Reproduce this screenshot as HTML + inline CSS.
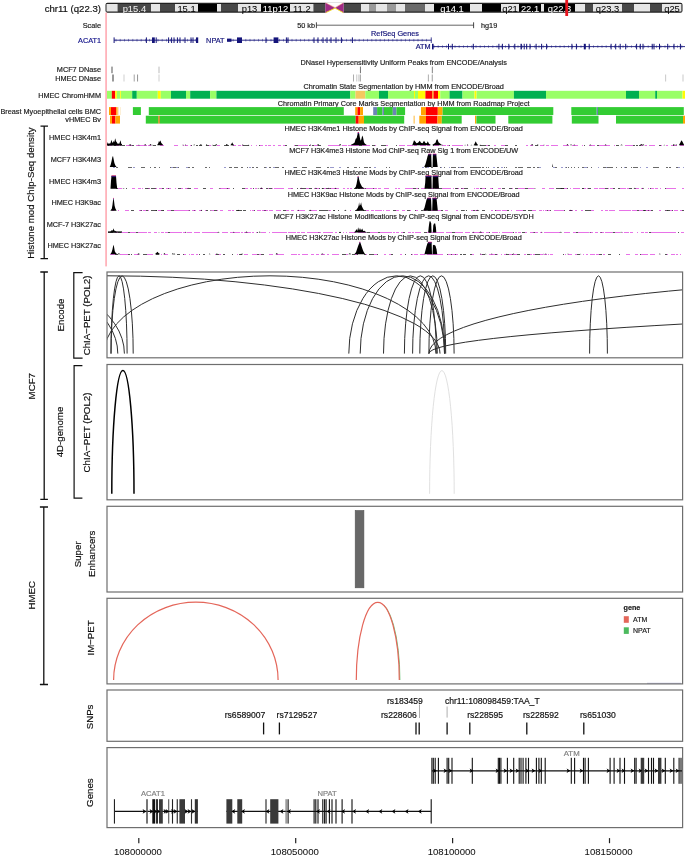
<!DOCTYPE html>
<html><head><meta charset="utf-8"><style>
html,body{margin:0;padding:0;background:#fff;width:685px;height:856px;overflow:hidden}
svg{display:block;will-change:transform}
text{font-family:"Liberation Sans", sans-serif}
</style></head><body>
<svg width="685" height="856" viewBox="0 0 685 856">
<rect width="685" height="856" fill="#fff"/>
<rect x="105.5" y="2.7" width="577" height="10.100000000000001" rx="2" fill="#222"/>
<rect x="106.50" y="4.00" width="11.30" height="7.50" fill="#e6e6e6"/>
<rect x="117.80" y="4.00" width="33.20" height="7.50" fill="#484848"/>
<rect x="151.00" y="4.00" width="9.00" height="7.50" fill="#e6e6e6"/>
<rect x="160.00" y="4.00" width="15.00" height="7.50" fill="#484848"/>
<rect x="175.00" y="4.00" width="23.00" height="7.50" fill="#e6e6e6"/>
<rect x="198.00" y="4.00" width="19.00" height="7.50" fill="#000"/>
<rect x="217.00" y="4.00" width="4.00" height="7.50" fill="#e6e6e6"/>
<rect x="221.00" y="4.00" width="17.00" height="7.50" fill="#484848"/>
<rect x="238.00" y="4.00" width="23.00" height="7.50" fill="#e6e6e6"/>
<rect x="261.00" y="4.00" width="29.00" height="7.50" fill="#000"/>
<rect x="290.00" y="4.00" width="23.70" height="7.50" fill="#e6e6e6"/>
<rect x="313.70" y="4.00" width="11.70" height="7.50" fill="#484848"/>
<rect x="343.60" y="4.00" width="17.40" height="7.50" fill="#484848"/>
<rect x="361.00" y="4.00" width="8.00" height="7.50" fill="#e6e6e6"/>
<rect x="369.00" y="4.00" width="7.00" height="7.50" fill="#9a9a9a"/>
<rect x="376.00" y="4.00" width="11.00" height="7.50" fill="#e6e6e6"/>
<rect x="387.00" y="4.00" width="9.00" height="7.50" fill="#9a9a9a"/>
<rect x="396.00" y="4.00" width="9.00" height="7.50" fill="#e6e6e6"/>
<rect x="405.00" y="4.00" width="20.00" height="7.50" fill="#6a6a6a"/>
<rect x="425.00" y="4.00" width="9.00" height="7.50" fill="#e6e6e6"/>
<rect x="434.00" y="4.00" width="36.00" height="7.50" fill="#000"/>
<rect x="470.00" y="4.00" width="12.00" height="7.50" fill="#e6e6e6"/>
<rect x="482.00" y="4.00" width="19.00" height="7.50" fill="#000"/>
<rect x="501.00" y="4.00" width="18.00" height="7.50" fill="#e6e6e6"/>
<rect x="519.00" y="4.00" width="22.00" height="7.50" fill="#000"/>
<rect x="541.00" y="4.00" width="3.00" height="7.50" fill="#e6e6e6"/>
<rect x="544.00" y="4.00" width="31.00" height="7.50" fill="#000"/>
<rect x="575.00" y="4.00" width="10.00" height="7.50" fill="#e6e6e6"/>
<rect x="585.00" y="4.00" width="8.00" height="7.50" fill="#484848"/>
<rect x="593.00" y="4.00" width="29.00" height="7.50" fill="#e6e6e6"/>
<rect x="622.00" y="4.00" width="12.00" height="7.50" fill="#484848"/>
<rect x="634.00" y="4.00" width="16.00" height="7.50" fill="#e6e6e6"/>
<rect x="650.00" y="4.00" width="12.00" height="7.50" fill="#484848"/>
<rect x="662.00" y="4.00" width="19.40" height="7.50" fill="#e6e6e6"/>
<text x="134.4" y="11.7" font-size="9.4" text-anchor="middle" fill="#eee" stroke="#eee" stroke-width="0.05">p15.4</text>
<text x="186.5" y="11.7" font-size="9.4" text-anchor="middle" fill="#000" stroke="#000" stroke-width="0.05">15.1</text>
<text x="249.5" y="11.7" font-size="9.4" text-anchor="middle" fill="#000" stroke="#000" stroke-width="0.05">p13</text>
<text x="275.5" y="11.7" font-size="9.4" text-anchor="middle" fill="#fff" stroke="#fff" stroke-width="0.05">11p12</text>
<text x="301.85" y="11.7" font-size="9.4" text-anchor="middle" fill="#000" stroke="#000" stroke-width="0.05">11.2</text>
<text x="452.0" y="11.7" font-size="9.4" text-anchor="middle" fill="#fff" stroke="#fff" stroke-width="0.05">q14.1</text>
<text x="510.0" y="11.7" font-size="9.4" text-anchor="middle" fill="#000" stroke="#000" stroke-width="0.05">q21</text>
<text x="530.0" y="11.7" font-size="9.4" text-anchor="middle" fill="#fff" stroke="#fff" stroke-width="0.05">22.1</text>
<text x="559.5" y="11.7" font-size="9.4" text-anchor="middle" fill="#fff" stroke="#fff" stroke-width="0.05">q22.3</text>
<text x="607.5" y="11.7" font-size="9.4" text-anchor="middle" fill="#000" stroke="#000" stroke-width="0.05">q23.3</text>
<text x="672.0" y="11.7" font-size="9.4" text-anchor="middle" fill="#000" stroke="#000" stroke-width="0.05">q25</text>
<rect x="325.40" y="2.50" width="18.20" height="10.60" fill="#fff"/>
<polygon points="325.4,2.8 335.1,7.9 325.4,12.9" fill="#a02a86"/>
<polygon points="343.6,2.8 335.1,7.9 343.6,12.9" fill="#a02a86"/>
<line x1="325.8" y1="12.6" x2="335.1" y2="8.2" stroke="#f0e020" stroke-width="0.9"/>
<line x1="343.2" y1="12.6" x2="335.1" y2="8.2" stroke="#f0e020" stroke-width="0.9"/>
<line x1="325.8" y1="3.1" x2="335.1" y2="7.6" stroke="#e07050" stroke-width="0.5"/>
<line x1="343.2" y1="3.1" x2="335.1" y2="7.6" stroke="#e07050" stroke-width="0.5"/>
<rect x="565.30" y="0.00" width="2.80" height="16.00" fill="#e8141e"/>
<rect x="105.20" y="12.60" width="1.80" height="253.80" fill="#ffb3bb"/>
<text x="101" y="12.2" font-size="9.6" text-anchor="end" fill="#111" stroke="#111" stroke-width="0.18">chr11 (q22.3)</text>
<text x="101" y="27.6" font-size="7.3" text-anchor="end" fill="#222" stroke="#222" stroke-width="0.18">Scale</text>
<text x="101" y="42.8" font-size="7.3" text-anchor="end" fill="#16168c" stroke="#16168c" stroke-width="0.18">ACAT1</text>
<text x="101" y="72.4" font-size="7.3" text-anchor="end" fill="#222" stroke="#222" stroke-width="0.18">MCF7 DNase</text>
<text x="101" y="81.0" font-size="7.3" text-anchor="end" fill="#222" stroke="#222" stroke-width="0.18">HMEC DNase</text>
<text x="101" y="97.5" font-size="7.3" text-anchor="end" fill="#222" stroke="#222" stroke-width="0.18">HMEC ChromHMM</text>
<text x="101" y="113.7" font-size="7.3" text-anchor="end" fill="#222" stroke="#222" stroke-width="0.18">Breast Myoepithelial cells BMC</text>
<text x="101" y="122.1" font-size="7.3" text-anchor="end" fill="#222" stroke="#222" stroke-width="0.18">vHMEC Bv</text>
<text x="101" y="140.1" font-size="7.3" text-anchor="end" fill="#222" stroke="#222" stroke-width="0.18">HMEC H3K4m1</text>
<text x="101" y="162.0" font-size="7.3" text-anchor="end" fill="#222" stroke="#222" stroke-width="0.18">MCF7 H3K4M3</text>
<text x="101" y="183.5" font-size="7.3" text-anchor="end" fill="#222" stroke="#222" stroke-width="0.18">HMEC H3K4m3</text>
<text x="101" y="205.1" font-size="7.3" text-anchor="end" fill="#222" stroke="#222" stroke-width="0.18">HMEC H3K9ac</text>
<text x="101" y="226.7" font-size="7.3" text-anchor="end" fill="#222" stroke="#222" stroke-width="0.18">MCF-7 H3K27ac</text>
<text x="101" y="248.1" font-size="7.3" text-anchor="end" fill="#222" stroke="#222" stroke-width="0.18">HMEC H3K27ac</text>
<text x="315" y="28.3" font-size="7.3" text-anchor="end" fill="#222" stroke="#222" stroke-width="0.18">50 kb</text>
<line x1="316.4" y1="25.2" x2="473.6" y2="25.2" stroke="#555" stroke-width="0.9"/>
<line x1="316.4" y1="22.3" x2="316.4" y2="28.2" stroke="#333" stroke-width="0.9"/>
<line x1="473.6" y1="22.3" x2="473.6" y2="28.2" stroke="#333" stroke-width="0.9"/>
<text x="481" y="28.3" font-size="7.3" text-anchor="start" fill="#222" stroke="#222" stroke-width="0.18">hg19</text>
<line x1="114" y1="40.2" x2="198" y2="40.2" stroke="#14147a" stroke-width="0.9"/>
<line x1="116.0" y1="38.900000000000006" x2="116.0" y2="41.5" stroke="#14147a" stroke-width="0.6" opacity="0.8"/>
<line x1="120.2" y1="38.900000000000006" x2="120.2" y2="41.5" stroke="#14147a" stroke-width="0.6" opacity="0.8"/>
<line x1="124.4" y1="38.900000000000006" x2="124.4" y2="41.5" stroke="#14147a" stroke-width="0.6" opacity="0.8"/>
<line x1="128.6" y1="38.900000000000006" x2="128.6" y2="41.5" stroke="#14147a" stroke-width="0.6" opacity="0.8"/>
<line x1="132.8" y1="38.900000000000006" x2="132.8" y2="41.5" stroke="#14147a" stroke-width="0.6" opacity="0.8"/>
<line x1="137.0" y1="38.900000000000006" x2="137.0" y2="41.5" stroke="#14147a" stroke-width="0.6" opacity="0.8"/>
<line x1="141.2" y1="38.900000000000006" x2="141.2" y2="41.5" stroke="#14147a" stroke-width="0.6" opacity="0.8"/>
<line x1="145.4" y1="38.900000000000006" x2="145.4" y2="41.5" stroke="#14147a" stroke-width="0.6" opacity="0.8"/>
<line x1="149.6" y1="38.900000000000006" x2="149.6" y2="41.5" stroke="#14147a" stroke-width="0.6" opacity="0.8"/>
<line x1="153.8" y1="38.900000000000006" x2="153.8" y2="41.5" stroke="#14147a" stroke-width="0.6" opacity="0.8"/>
<line x1="158.0" y1="38.900000000000006" x2="158.0" y2="41.5" stroke="#14147a" stroke-width="0.6" opacity="0.8"/>
<line x1="162.2" y1="38.900000000000006" x2="162.2" y2="41.5" stroke="#14147a" stroke-width="0.6" opacity="0.8"/>
<line x1="166.4" y1="38.900000000000006" x2="166.4" y2="41.5" stroke="#14147a" stroke-width="0.6" opacity="0.8"/>
<line x1="170.6" y1="38.900000000000006" x2="170.6" y2="41.5" stroke="#14147a" stroke-width="0.6" opacity="0.8"/>
<line x1="174.8" y1="38.900000000000006" x2="174.8" y2="41.5" stroke="#14147a" stroke-width="0.6" opacity="0.8"/>
<line x1="179.0" y1="38.900000000000006" x2="179.0" y2="41.5" stroke="#14147a" stroke-width="0.6" opacity="0.8"/>
<line x1="183.2" y1="38.900000000000006" x2="183.2" y2="41.5" stroke="#14147a" stroke-width="0.6" opacity="0.8"/>
<line x1="187.4" y1="38.900000000000006" x2="187.4" y2="41.5" stroke="#14147a" stroke-width="0.6" opacity="0.8"/>
<line x1="191.6" y1="38.900000000000006" x2="191.6" y2="41.5" stroke="#14147a" stroke-width="0.6" opacity="0.8"/>
<line x1="195.8" y1="38.900000000000006" x2="195.8" y2="41.5" stroke="#14147a" stroke-width="0.6" opacity="0.8"/>
<rect x="113.60" y="37.40" width="1.00" height="5.60" fill="#14147a"/>
<rect x="145.90" y="37.40" width="1.00" height="5.60" fill="#14147a"/>
<rect x="152.00" y="37.40" width="2.80" height="5.60" fill="#14147a"/>
<rect x="155.70" y="37.40" width="1.00" height="5.60" fill="#14147a"/>
<rect x="168.10" y="37.40" width="1.00" height="5.60" fill="#14147a"/>
<rect x="171.10" y="37.40" width="1.00" height="5.60" fill="#14147a"/>
<rect x="173.50" y="37.40" width="1.00" height="5.60" fill="#14147a"/>
<rect x="176.90" y="37.40" width="1.00" height="5.60" fill="#14147a"/>
<rect x="179.50" y="37.40" width="1.00" height="5.60" fill="#14147a"/>
<rect x="184.50" y="37.40" width="1.00" height="5.60" fill="#14147a"/>
<rect x="190.50" y="37.40" width="1.00" height="5.60" fill="#14147a"/>
<rect x="192.50" y="37.40" width="1.00" height="5.60" fill="#14147a"/>
<rect x="196.00" y="37.40" width="2.20" height="5.60" fill="#14147a"/>
<text x="224.5" y="42.8" font-size="7.3" text-anchor="end" fill="#14147a" stroke="#14147a" stroke-width="0.18">NPAT</text>
<line x1="227" y1="40.2" x2="431.5" y2="40.2" stroke="#14147a" stroke-width="0.9"/>
<line x1="229.0" y1="38.900000000000006" x2="229.0" y2="41.5" stroke="#14147a" stroke-width="0.6" opacity="0.8"/>
<line x1="233.2" y1="38.900000000000006" x2="233.2" y2="41.5" stroke="#14147a" stroke-width="0.6" opacity="0.8"/>
<line x1="237.4" y1="38.900000000000006" x2="237.4" y2="41.5" stroke="#14147a" stroke-width="0.6" opacity="0.8"/>
<line x1="241.6" y1="38.900000000000006" x2="241.6" y2="41.5" stroke="#14147a" stroke-width="0.6" opacity="0.8"/>
<line x1="245.8" y1="38.900000000000006" x2="245.8" y2="41.5" stroke="#14147a" stroke-width="0.6" opacity="0.8"/>
<line x1="250.0" y1="38.900000000000006" x2="250.0" y2="41.5" stroke="#14147a" stroke-width="0.6" opacity="0.8"/>
<line x1="254.2" y1="38.900000000000006" x2="254.2" y2="41.5" stroke="#14147a" stroke-width="0.6" opacity="0.8"/>
<line x1="258.4" y1="38.900000000000006" x2="258.4" y2="41.5" stroke="#14147a" stroke-width="0.6" opacity="0.8"/>
<line x1="262.6" y1="38.900000000000006" x2="262.6" y2="41.5" stroke="#14147a" stroke-width="0.6" opacity="0.8"/>
<line x1="266.8" y1="38.900000000000006" x2="266.8" y2="41.5" stroke="#14147a" stroke-width="0.6" opacity="0.8"/>
<line x1="271.0" y1="38.900000000000006" x2="271.0" y2="41.5" stroke="#14147a" stroke-width="0.6" opacity="0.8"/>
<line x1="275.2" y1="38.900000000000006" x2="275.2" y2="41.5" stroke="#14147a" stroke-width="0.6" opacity="0.8"/>
<line x1="279.4" y1="38.900000000000006" x2="279.4" y2="41.5" stroke="#14147a" stroke-width="0.6" opacity="0.8"/>
<line x1="283.6" y1="38.900000000000006" x2="283.6" y2="41.5" stroke="#14147a" stroke-width="0.6" opacity="0.8"/>
<line x1="287.8" y1="38.900000000000006" x2="287.8" y2="41.5" stroke="#14147a" stroke-width="0.6" opacity="0.8"/>
<line x1="292.0" y1="38.900000000000006" x2="292.0" y2="41.5" stroke="#14147a" stroke-width="0.6" opacity="0.8"/>
<line x1="296.2" y1="38.900000000000006" x2="296.2" y2="41.5" stroke="#14147a" stroke-width="0.6" opacity="0.8"/>
<line x1="300.4" y1="38.900000000000006" x2="300.4" y2="41.5" stroke="#14147a" stroke-width="0.6" opacity="0.8"/>
<line x1="304.6" y1="38.900000000000006" x2="304.6" y2="41.5" stroke="#14147a" stroke-width="0.6" opacity="0.8"/>
<line x1="308.8" y1="38.900000000000006" x2="308.8" y2="41.5" stroke="#14147a" stroke-width="0.6" opacity="0.8"/>
<line x1="313.0" y1="38.900000000000006" x2="313.0" y2="41.5" stroke="#14147a" stroke-width="0.6" opacity="0.8"/>
<line x1="317.2" y1="38.900000000000006" x2="317.2" y2="41.5" stroke="#14147a" stroke-width="0.6" opacity="0.8"/>
<line x1="321.4" y1="38.900000000000006" x2="321.4" y2="41.5" stroke="#14147a" stroke-width="0.6" opacity="0.8"/>
<line x1="325.6" y1="38.900000000000006" x2="325.6" y2="41.5" stroke="#14147a" stroke-width="0.6" opacity="0.8"/>
<line x1="329.8" y1="38.900000000000006" x2="329.8" y2="41.5" stroke="#14147a" stroke-width="0.6" opacity="0.8"/>
<line x1="334.0" y1="38.900000000000006" x2="334.0" y2="41.5" stroke="#14147a" stroke-width="0.6" opacity="0.8"/>
<line x1="338.2" y1="38.900000000000006" x2="338.2" y2="41.5" stroke="#14147a" stroke-width="0.6" opacity="0.8"/>
<line x1="342.4" y1="38.900000000000006" x2="342.4" y2="41.5" stroke="#14147a" stroke-width="0.6" opacity="0.8"/>
<line x1="346.6" y1="38.900000000000006" x2="346.6" y2="41.5" stroke="#14147a" stroke-width="0.6" opacity="0.8"/>
<line x1="350.8" y1="38.900000000000006" x2="350.8" y2="41.5" stroke="#14147a" stroke-width="0.6" opacity="0.8"/>
<line x1="355.0" y1="38.900000000000006" x2="355.0" y2="41.5" stroke="#14147a" stroke-width="0.6" opacity="0.8"/>
<line x1="359.2" y1="38.900000000000006" x2="359.2" y2="41.5" stroke="#14147a" stroke-width="0.6" opacity="0.8"/>
<line x1="363.4" y1="38.900000000000006" x2="363.4" y2="41.5" stroke="#14147a" stroke-width="0.6" opacity="0.8"/>
<line x1="367.6" y1="38.900000000000006" x2="367.6" y2="41.5" stroke="#14147a" stroke-width="0.6" opacity="0.8"/>
<line x1="371.8" y1="38.900000000000006" x2="371.8" y2="41.5" stroke="#14147a" stroke-width="0.6" opacity="0.8"/>
<line x1="376.0" y1="38.900000000000006" x2="376.0" y2="41.5" stroke="#14147a" stroke-width="0.6" opacity="0.8"/>
<line x1="380.2" y1="38.900000000000006" x2="380.2" y2="41.5" stroke="#14147a" stroke-width="0.6" opacity="0.8"/>
<line x1="384.4" y1="38.900000000000006" x2="384.4" y2="41.5" stroke="#14147a" stroke-width="0.6" opacity="0.8"/>
<line x1="388.6" y1="38.900000000000006" x2="388.6" y2="41.5" stroke="#14147a" stroke-width="0.6" opacity="0.8"/>
<line x1="392.8" y1="38.900000000000006" x2="392.8" y2="41.5" stroke="#14147a" stroke-width="0.6" opacity="0.8"/>
<line x1="397.0" y1="38.900000000000006" x2="397.0" y2="41.5" stroke="#14147a" stroke-width="0.6" opacity="0.8"/>
<line x1="401.2" y1="38.900000000000006" x2="401.2" y2="41.5" stroke="#14147a" stroke-width="0.6" opacity="0.8"/>
<line x1="405.4" y1="38.900000000000006" x2="405.4" y2="41.5" stroke="#14147a" stroke-width="0.6" opacity="0.8"/>
<line x1="409.6" y1="38.900000000000006" x2="409.6" y2="41.5" stroke="#14147a" stroke-width="0.6" opacity="0.8"/>
<line x1="413.8" y1="38.900000000000006" x2="413.8" y2="41.5" stroke="#14147a" stroke-width="0.6" opacity="0.8"/>
<line x1="418.0" y1="38.900000000000006" x2="418.0" y2="41.5" stroke="#14147a" stroke-width="0.6" opacity="0.8"/>
<line x1="422.2" y1="38.900000000000006" x2="422.2" y2="41.5" stroke="#14147a" stroke-width="0.6" opacity="0.8"/>
<line x1="426.4" y1="38.900000000000006" x2="426.4" y2="41.5" stroke="#14147a" stroke-width="0.6" opacity="0.8"/>
<rect x="227.00" y="38.60" width="4.50" height="3.20" fill="#14147a"/>
<rect x="237.00" y="37.40" width="5.00" height="5.60" fill="#14147a"/>
<rect x="265.50" y="37.40" width="1.00" height="5.60" fill="#14147a"/>
<rect x="273.60" y="37.40" width="4.80" height="5.60" fill="#14147a"/>
<rect x="285.90" y="37.40" width="1.00" height="5.60" fill="#14147a"/>
<rect x="287.50" y="37.40" width="1.00" height="5.60" fill="#14147a"/>
<rect x="313.50" y="37.40" width="1.00" height="5.60" fill="#14147a"/>
<rect x="317.50" y="37.40" width="1.00" height="5.60" fill="#14147a"/>
<rect x="322.50" y="37.40" width="1.00" height="5.60" fill="#14147a"/>
<rect x="326.50" y="37.40" width="1.00" height="5.60" fill="#14147a"/>
<rect x="330.50" y="37.40" width="1.00" height="5.60" fill="#14147a"/>
<rect x="335.50" y="37.40" width="1.00" height="5.60" fill="#14147a"/>
<rect x="340.90" y="37.40" width="1.00" height="5.60" fill="#14147a"/>
<rect x="351.90" y="37.40" width="1.00" height="5.60" fill="#14147a"/>
<rect x="430.80" y="37.40" width="0.80" height="5.60" fill="#14147a"/>
<text x="395" y="35.9" font-size="7.3" text-anchor="middle" fill="#14147a" stroke="#14147a" stroke-width="0.18">RefSeq Genes</text>
<text x="430.5" y="49.1" font-size="7.3" text-anchor="end" fill="#14147a" stroke="#14147a" stroke-width="0.18">ATM</text>
<line x1="432" y1="46.6" x2="685" y2="46.6" stroke="#14147a" stroke-width="0.9"/>
<line x1="434.0" y1="45.300000000000004" x2="434.0" y2="47.9" stroke="#14147a" stroke-width="0.6" opacity="0.8"/>
<line x1="438.2" y1="45.300000000000004" x2="438.2" y2="47.9" stroke="#14147a" stroke-width="0.6" opacity="0.8"/>
<line x1="442.4" y1="45.300000000000004" x2="442.4" y2="47.9" stroke="#14147a" stroke-width="0.6" opacity="0.8"/>
<line x1="446.6" y1="45.300000000000004" x2="446.6" y2="47.9" stroke="#14147a" stroke-width="0.6" opacity="0.8"/>
<line x1="450.8" y1="45.300000000000004" x2="450.8" y2="47.9" stroke="#14147a" stroke-width="0.6" opacity="0.8"/>
<line x1="455.0" y1="45.300000000000004" x2="455.0" y2="47.9" stroke="#14147a" stroke-width="0.6" opacity="0.8"/>
<line x1="459.2" y1="45.300000000000004" x2="459.2" y2="47.9" stroke="#14147a" stroke-width="0.6" opacity="0.8"/>
<line x1="463.4" y1="45.300000000000004" x2="463.4" y2="47.9" stroke="#14147a" stroke-width="0.6" opacity="0.8"/>
<line x1="467.6" y1="45.300000000000004" x2="467.6" y2="47.9" stroke="#14147a" stroke-width="0.6" opacity="0.8"/>
<line x1="471.8" y1="45.300000000000004" x2="471.8" y2="47.9" stroke="#14147a" stroke-width="0.6" opacity="0.8"/>
<line x1="476.0" y1="45.300000000000004" x2="476.0" y2="47.9" stroke="#14147a" stroke-width="0.6" opacity="0.8"/>
<line x1="480.2" y1="45.300000000000004" x2="480.2" y2="47.9" stroke="#14147a" stroke-width="0.6" opacity="0.8"/>
<line x1="484.4" y1="45.300000000000004" x2="484.4" y2="47.9" stroke="#14147a" stroke-width="0.6" opacity="0.8"/>
<line x1="488.6" y1="45.300000000000004" x2="488.6" y2="47.9" stroke="#14147a" stroke-width="0.6" opacity="0.8"/>
<line x1="492.8" y1="45.300000000000004" x2="492.8" y2="47.9" stroke="#14147a" stroke-width="0.6" opacity="0.8"/>
<line x1="497.0" y1="45.300000000000004" x2="497.0" y2="47.9" stroke="#14147a" stroke-width="0.6" opacity="0.8"/>
<line x1="501.2" y1="45.300000000000004" x2="501.2" y2="47.9" stroke="#14147a" stroke-width="0.6" opacity="0.8"/>
<line x1="505.4" y1="45.300000000000004" x2="505.4" y2="47.9" stroke="#14147a" stroke-width="0.6" opacity="0.8"/>
<line x1="509.6" y1="45.300000000000004" x2="509.6" y2="47.9" stroke="#14147a" stroke-width="0.6" opacity="0.8"/>
<line x1="513.8" y1="45.300000000000004" x2="513.8" y2="47.9" stroke="#14147a" stroke-width="0.6" opacity="0.8"/>
<line x1="518.0" y1="45.300000000000004" x2="518.0" y2="47.9" stroke="#14147a" stroke-width="0.6" opacity="0.8"/>
<line x1="522.2" y1="45.300000000000004" x2="522.2" y2="47.9" stroke="#14147a" stroke-width="0.6" opacity="0.8"/>
<line x1="526.4" y1="45.300000000000004" x2="526.4" y2="47.9" stroke="#14147a" stroke-width="0.6" opacity="0.8"/>
<line x1="530.6" y1="45.300000000000004" x2="530.6" y2="47.9" stroke="#14147a" stroke-width="0.6" opacity="0.8"/>
<line x1="534.8" y1="45.300000000000004" x2="534.8" y2="47.9" stroke="#14147a" stroke-width="0.6" opacity="0.8"/>
<line x1="539.0" y1="45.300000000000004" x2="539.0" y2="47.9" stroke="#14147a" stroke-width="0.6" opacity="0.8"/>
<line x1="543.2" y1="45.300000000000004" x2="543.2" y2="47.9" stroke="#14147a" stroke-width="0.6" opacity="0.8"/>
<line x1="547.4" y1="45.300000000000004" x2="547.4" y2="47.9" stroke="#14147a" stroke-width="0.6" opacity="0.8"/>
<line x1="551.6" y1="45.300000000000004" x2="551.6" y2="47.9" stroke="#14147a" stroke-width="0.6" opacity="0.8"/>
<line x1="555.8" y1="45.300000000000004" x2="555.8" y2="47.9" stroke="#14147a" stroke-width="0.6" opacity="0.8"/>
<line x1="560.0" y1="45.300000000000004" x2="560.0" y2="47.9" stroke="#14147a" stroke-width="0.6" opacity="0.8"/>
<line x1="564.2" y1="45.300000000000004" x2="564.2" y2="47.9" stroke="#14147a" stroke-width="0.6" opacity="0.8"/>
<line x1="568.4" y1="45.300000000000004" x2="568.4" y2="47.9" stroke="#14147a" stroke-width="0.6" opacity="0.8"/>
<line x1="572.6" y1="45.300000000000004" x2="572.6" y2="47.9" stroke="#14147a" stroke-width="0.6" opacity="0.8"/>
<line x1="576.8" y1="45.300000000000004" x2="576.8" y2="47.9" stroke="#14147a" stroke-width="0.6" opacity="0.8"/>
<line x1="581.0" y1="45.300000000000004" x2="581.0" y2="47.9" stroke="#14147a" stroke-width="0.6" opacity="0.8"/>
<line x1="585.2" y1="45.300000000000004" x2="585.2" y2="47.9" stroke="#14147a" stroke-width="0.6" opacity="0.8"/>
<line x1="589.4" y1="45.300000000000004" x2="589.4" y2="47.9" stroke="#14147a" stroke-width="0.6" opacity="0.8"/>
<line x1="593.6" y1="45.300000000000004" x2="593.6" y2="47.9" stroke="#14147a" stroke-width="0.6" opacity="0.8"/>
<line x1="597.8" y1="45.300000000000004" x2="597.8" y2="47.9" stroke="#14147a" stroke-width="0.6" opacity="0.8"/>
<line x1="602.0" y1="45.300000000000004" x2="602.0" y2="47.9" stroke="#14147a" stroke-width="0.6" opacity="0.8"/>
<line x1="606.2" y1="45.300000000000004" x2="606.2" y2="47.9" stroke="#14147a" stroke-width="0.6" opacity="0.8"/>
<line x1="610.4" y1="45.300000000000004" x2="610.4" y2="47.9" stroke="#14147a" stroke-width="0.6" opacity="0.8"/>
<line x1="614.6" y1="45.300000000000004" x2="614.6" y2="47.9" stroke="#14147a" stroke-width="0.6" opacity="0.8"/>
<line x1="618.8" y1="45.300000000000004" x2="618.8" y2="47.9" stroke="#14147a" stroke-width="0.6" opacity="0.8"/>
<line x1="623.0" y1="45.300000000000004" x2="623.0" y2="47.9" stroke="#14147a" stroke-width="0.6" opacity="0.8"/>
<line x1="627.2" y1="45.300000000000004" x2="627.2" y2="47.9" stroke="#14147a" stroke-width="0.6" opacity="0.8"/>
<line x1="631.4" y1="45.300000000000004" x2="631.4" y2="47.9" stroke="#14147a" stroke-width="0.6" opacity="0.8"/>
<line x1="635.6" y1="45.300000000000004" x2="635.6" y2="47.9" stroke="#14147a" stroke-width="0.6" opacity="0.8"/>
<line x1="639.8" y1="45.300000000000004" x2="639.8" y2="47.9" stroke="#14147a" stroke-width="0.6" opacity="0.8"/>
<line x1="644.0" y1="45.300000000000004" x2="644.0" y2="47.9" stroke="#14147a" stroke-width="0.6" opacity="0.8"/>
<line x1="648.2" y1="45.300000000000004" x2="648.2" y2="47.9" stroke="#14147a" stroke-width="0.6" opacity="0.8"/>
<line x1="652.4" y1="45.300000000000004" x2="652.4" y2="47.9" stroke="#14147a" stroke-width="0.6" opacity="0.8"/>
<line x1="656.6" y1="45.300000000000004" x2="656.6" y2="47.9" stroke="#14147a" stroke-width="0.6" opacity="0.8"/>
<line x1="660.8" y1="45.300000000000004" x2="660.8" y2="47.9" stroke="#14147a" stroke-width="0.6" opacity="0.8"/>
<line x1="665.0" y1="45.300000000000004" x2="665.0" y2="47.9" stroke="#14147a" stroke-width="0.6" opacity="0.8"/>
<line x1="669.2" y1="45.300000000000004" x2="669.2" y2="47.9" stroke="#14147a" stroke-width="0.6" opacity="0.8"/>
<line x1="673.4" y1="45.300000000000004" x2="673.4" y2="47.9" stroke="#14147a" stroke-width="0.6" opacity="0.8"/>
<line x1="677.6" y1="45.300000000000004" x2="677.6" y2="47.9" stroke="#14147a" stroke-width="0.6" opacity="0.8"/>
<line x1="681.8" y1="45.300000000000004" x2="681.8" y2="47.9" stroke="#14147a" stroke-width="0.6" opacity="0.8"/>
<rect x="432.00" y="43.80" width="1.60" height="5.60" fill="#14147a"/>
<rect x="448.00" y="43.80" width="1.00" height="5.60" fill="#14147a"/>
<rect x="451.80" y="43.80" width="1.00" height="5.60" fill="#14147a"/>
<rect x="472.80" y="43.80" width="1.00" height="5.60" fill="#14147a"/>
<rect x="498.40" y="43.80" width="1.00" height="5.60" fill="#14147a"/>
<rect x="501.90" y="43.80" width="1.00" height="5.60" fill="#14147a"/>
<rect x="508.30" y="43.80" width="1.00" height="5.60" fill="#14147a"/>
<rect x="514.30" y="43.80" width="1.00" height="5.60" fill="#14147a"/>
<rect x="520.50" y="43.80" width="1.40" height="5.60" fill="#14147a"/>
<rect x="523.70" y="43.80" width="1.00" height="5.60" fill="#14147a"/>
<rect x="526.20" y="43.80" width="1.00" height="5.60" fill="#14147a"/>
<rect x="529.50" y="43.80" width="1.00" height="5.60" fill="#14147a"/>
<rect x="535.60" y="43.80" width="1.00" height="5.60" fill="#14147a"/>
<rect x="541.10" y="43.80" width="1.00" height="5.60" fill="#14147a"/>
<rect x="546.10" y="43.80" width="1.00" height="5.60" fill="#14147a"/>
<rect x="571.40" y="43.80" width="1.00" height="5.60" fill="#14147a"/>
<rect x="575.90" y="43.80" width="1.00" height="5.60" fill="#14147a"/>
<rect x="583.80" y="43.80" width="2.00" height="5.60" fill="#14147a"/>
<rect x="588.70" y="43.80" width="1.00" height="5.60" fill="#14147a"/>
<rect x="610.60" y="43.80" width="1.00" height="5.60" fill="#14147a"/>
<rect x="615.20" y="43.80" width="1.00" height="5.60" fill="#14147a"/>
<rect x="619.70" y="43.80" width="1.00" height="5.60" fill="#14147a"/>
<rect x="625.20" y="43.80" width="1.00" height="5.60" fill="#14147a"/>
<rect x="636.10" y="43.80" width="1.00" height="5.60" fill="#14147a"/>
<rect x="639.80" y="43.80" width="1.00" height="5.60" fill="#14147a"/>
<rect x="642.50" y="43.80" width="1.00" height="5.60" fill="#14147a"/>
<rect x="651.70" y="43.80" width="1.00" height="5.60" fill="#14147a"/>
<rect x="653.50" y="43.80" width="1.00" height="5.60" fill="#14147a"/>
<rect x="659.00" y="43.80" width="1.00" height="5.60" fill="#14147a"/>
<rect x="667.20" y="43.80" width="1.00" height="5.60" fill="#14147a"/>
<rect x="673.50" y="43.80" width="1.00" height="5.60" fill="#14147a"/>
<rect x="679.90" y="43.80" width="1.00" height="5.60" fill="#14147a"/>
<text x="403.7" y="64.5" font-size="7.3" text-anchor="middle" fill="#222" stroke="#222" stroke-width="0.18">DNaseI Hypersensitivity Uniform Peaks from ENCODE/Analysis</text>
<rect x="111.50" y="66.60" width="1.00" height="6.60" fill="#555"/>
<rect x="158.60" y="66.60" width="0.80" height="6.60" fill="#aaa"/>
<rect x="359.95" y="66.60" width="0.90" height="6.60" fill="#666"/>
<rect x="431.85" y="66.60" width="0.90" height="6.60" fill="#777"/>
<rect x="112.00" y="74.50" width="2.00" height="7.00" fill="#999"/>
<rect x="123.65" y="74.50" width="0.70" height="7.00" fill="#bbb"/>
<rect x="133.75" y="74.50" width="0.90" height="7.00" fill="#999"/>
<rect x="137.15" y="74.50" width="0.90" height="7.00" fill="#888"/>
<rect x="158.65" y="74.50" width="0.70" height="7.00" fill="#bbb"/>
<rect x="353.00" y="74.50" width="0.80" height="7.00" fill="#999"/>
<rect x="356.40" y="74.50" width="0.80" height="7.00" fill="#bbb"/>
<rect x="358.60" y="74.50" width="0.80" height="7.00" fill="#aaa"/>
<rect x="360.00" y="74.50" width="0.80" height="7.00" fill="#999"/>
<rect x="427.90" y="74.50" width="0.80" height="7.00" fill="#999"/>
<rect x="431.80" y="74.50" width="0.80" height="7.00" fill="#888"/>
<rect x="665.30" y="74.50" width="0.80" height="7.00" fill="#bbb"/>
<rect x="682.60" y="74.50" width="0.80" height="7.00" fill="#bbb"/>
<text x="403.7" y="88.6" font-size="7.3" text-anchor="middle" fill="#222" stroke="#222" stroke-width="0.18">Chromatin State Segmentation by HMM from ENCODE/Broad</text>
<rect x="107.00" y="90.80" width="4.80" height="7.90" fill="#99ff66"/>
<rect x="111.80" y="90.80" width="3.40" height="7.90" fill="#ff0000"/>
<rect x="115.20" y="90.80" width="1.70" height="7.90" fill="#fffc04"/>
<rect x="116.90" y="90.80" width="3.30" height="7.90" fill="#99ff66"/>
<rect x="120.20" y="90.80" width="0.80" height="7.90" fill="#fffc04"/>
<rect x="121.00" y="90.80" width="11.20" height="7.90" fill="#99ff66"/>
<rect x="132.20" y="90.80" width="4.60" height="7.90" fill="#00b050"/>
<rect x="136.80" y="90.80" width="21.00" height="7.90" fill="#99ff66"/>
<rect x="157.80" y="90.80" width="3.00" height="7.90" fill="#fffc04"/>
<rect x="160.80" y="90.80" width="10.20" height="7.90" fill="#99ff66"/>
<rect x="171.00" y="90.80" width="15.00" height="7.90" fill="#00b050"/>
<rect x="186.00" y="90.80" width="4.20" height="7.90" fill="#99ff66"/>
<rect x="190.20" y="90.80" width="19.90" height="7.90" fill="#00b050"/>
<rect x="210.10" y="90.80" width="6.30" height="7.90" fill="#99ff66"/>
<rect x="216.40" y="90.80" width="133.90" height="7.90" fill="#00b050"/>
<rect x="350.30" y="90.80" width="5.20" height="7.90" fill="#99ff66"/>
<rect x="355.50" y="90.80" width="9.80" height="7.90" fill="#f4c860"/>
<rect x="365.30" y="90.80" width="13.70" height="7.90" fill="#99ff66"/>
<rect x="379.00" y="90.80" width="9.00" height="7.90" fill="#00b050"/>
<rect x="388.00" y="90.80" width="26.00" height="7.90" fill="#99ff66"/>
<rect x="414.00" y="90.80" width="1.00" height="7.90" fill="#fffc04"/>
<rect x="415.00" y="90.80" width="3.00" height="7.90" fill="#99ff66"/>
<rect x="418.00" y="90.80" width="7.40" height="7.90" fill="#fffc04"/>
<rect x="425.40" y="90.80" width="7.00" height="7.90" fill="#ff0000"/>
<rect x="432.40" y="90.80" width="1.20" height="7.90" fill="#ffb000"/>
<rect x="433.60" y="90.80" width="4.40" height="7.90" fill="#ff0000"/>
<rect x="438.00" y="90.80" width="2.30" height="7.90" fill="#fffc04"/>
<rect x="440.30" y="90.80" width="9.20" height="7.90" fill="#99ff66"/>
<rect x="449.50" y="90.80" width="13.00" height="7.90" fill="#00b050"/>
<rect x="462.50" y="90.80" width="12.00" height="7.90" fill="#99ff66"/>
<rect x="474.50" y="90.80" width="2.10" height="7.90" fill="#fffc04"/>
<rect x="476.60" y="90.80" width="37.30" height="7.90" fill="#99ff66"/>
<rect x="513.90" y="90.80" width="32.10" height="7.90" fill="#00b050"/>
<rect x="546.00" y="90.80" width="80.00" height="7.90" fill="#99ff66"/>
<rect x="626.00" y="90.80" width="13.00" height="7.90" fill="#00b050"/>
<rect x="639.00" y="90.80" width="16.20" height="7.90" fill="#99ff66"/>
<rect x="655.20" y="90.80" width="1.80" height="7.90" fill="#00b050"/>
<rect x="657.00" y="90.80" width="25.50" height="7.90" fill="#99ff66"/>
<rect x="682.50" y="90.80" width="2.50" height="7.90" fill="#fffc04"/>
<text x="403.7" y="105.8" font-size="7.3" text-anchor="middle" fill="#222" stroke="#222" stroke-width="0.18">Chromatin Primary Core Marks Segmentation by HMM from Roadmap Project</text>
<rect x="109.00" y="107.10" width="2.00" height="7.90" fill="#ffa500"/>
<rect x="111.00" y="107.10" width="5.20" height="7.90" fill="#ff0000"/>
<rect x="116.20" y="107.10" width="1.40" height="7.90" fill="#ffa500"/>
<rect x="118.00" y="107.10" width="0.60" height="7.90" fill="#f8d8a0"/>
<rect x="120.50" y="107.10" width="0.50" height="7.90" fill="#f8e0b0"/>
<rect x="132.90" y="107.10" width="8.00" height="7.90" fill="#33cc33"/>
<rect x="148.80" y="107.10" width="195.00" height="7.90" fill="#33cc33"/>
<rect x="355.20" y="107.10" width="2.30" height="7.90" fill="#ffa500"/>
<rect x="357.50" y="107.10" width="2.60" height="7.90" fill="#ff0000"/>
<rect x="360.10" y="107.10" width="2.90" height="7.90" fill="#ffa500"/>
<rect x="373.20" y="107.10" width="3.90" height="7.90" fill="#6c84b6"/>
<rect x="377.10" y="107.10" width="5.40" height="7.90" fill="#33cc33"/>
<rect x="382.50" y="107.10" width="1.50" height="7.90" fill="#6c84b6"/>
<rect x="384.00" y="107.10" width="8.80" height="7.90" fill="#33cc33"/>
<rect x="392.80" y="107.10" width="3.60" height="7.90" fill="#6c84b6"/>
<rect x="396.40" y="107.10" width="8.70" height="7.90" fill="#33cc33"/>
<rect x="421.00" y="107.10" width="4.90" height="7.90" fill="#ffa500"/>
<rect x="425.90" y="107.10" width="11.90" height="7.90" fill="#ff0000"/>
<rect x="437.80" y="107.10" width="4.80" height="7.90" fill="#ffa500"/>
<rect x="442.60" y="107.10" width="110.70" height="7.90" fill="#33cc33"/>
<rect x="571.30" y="107.10" width="25.40" height="7.90" fill="#33cc33"/>
<rect x="596.70" y="107.10" width="1.30" height="7.90" fill="#6c84b6"/>
<rect x="598.00" y="107.10" width="85.80" height="7.90" fill="#33cc33"/>
<rect x="110.00" y="115.70" width="2.00" height="7.90" fill="#ffa500"/>
<rect x="112.00" y="115.70" width="3.40" height="7.90" fill="#ff0000"/>
<rect x="115.40" y="115.70" width="4.60" height="7.90" fill="#ffa500"/>
<rect x="145.80" y="115.70" width="12.40" height="7.90" fill="#33cc33"/>
<rect x="158.20" y="115.70" width="1.70" height="7.90" fill="#c8901a"/>
<rect x="159.90" y="115.70" width="195.80" height="7.90" fill="#33cc33"/>
<rect x="355.70" y="115.70" width="3.00" height="7.90" fill="#ff0000"/>
<rect x="358.70" y="115.70" width="5.30" height="7.90" fill="#ffa500"/>
<rect x="364.00" y="115.70" width="40.20" height="7.90" fill="#33cc33"/>
<rect x="413.70" y="115.70" width="0.80" height="7.90" fill="#ffa500"/>
<rect x="419.30" y="115.70" width="6.70" height="7.90" fill="#ffa500"/>
<rect x="426.00" y="115.70" width="11.50" height="7.90" fill="#ff0000"/>
<rect x="437.50" y="115.70" width="4.30" height="7.90" fill="#ffa500"/>
<rect x="441.80" y="115.70" width="19.90" height="7.90" fill="#33cc33"/>
<rect x="475.00" y="115.70" width="1.20" height="7.90" fill="#ffa500"/>
<rect x="476.40" y="115.70" width="19.10" height="7.90" fill="#33cc33"/>
<rect x="508.30" y="115.70" width="44.10" height="7.90" fill="#33cc33"/>
<rect x="571.80" y="115.70" width="26.70" height="7.90" fill="#33cc33"/>
<rect x="616.00" y="115.70" width="67.00" height="7.90" fill="#33cc33"/>
<rect x="683.00" y="115.70" width="2.00" height="7.90" fill="#ffa500"/>
<text x="403.7" y="131.3" font-size="7.3" text-anchor="middle" fill="#222" stroke="#222" stroke-width="0.18">HMEC H3K4me1 Histone Mods by ChIP-seq Signal from ENCODE/Broad</text>
<text x="403.7" y="153.0" font-size="7.3" text-anchor="middle" fill="#222" stroke="#222" stroke-width="0.18">MCF7 H3K4me3 Histone Mod ChIP-seq Raw Sig 1 from ENCODE/UW</text>
<text x="403.7" y="174.8" font-size="7.3" text-anchor="middle" fill="#222" stroke="#222" stroke-width="0.18">HMEC H3K4me3 Histone Mods by ChIP-seq Signal from ENCODE/Broad</text>
<text x="403.7" y="196.8" font-size="7.3" text-anchor="middle" fill="#222" stroke="#222" stroke-width="0.18">HMEC H3K9ac Histone Mods by ChIP-seq Signal from ENCODE/Broad</text>
<text x="403.7" y="218.5" font-size="7.3" text-anchor="middle" fill="#222" stroke="#222" stroke-width="0.18">MCF7 H3K27ac Histone Modifications by ChIP-seq Signal from ENCODE/SYDH</text>
<text x="403.7" y="240.3" font-size="7.3" text-anchor="middle" fill="#222" stroke="#222" stroke-width="0.18">HMEC H3K27ac Histone Mods by ChIP-seq Signal from ENCODE/Broad</text>
<rect x="108" y="145" width="1" height="1" fill="#555555"/>
<rect x="109" y="145" width="3" height="1" fill="#e872e8"/>
<rect x="114" y="145" width="2" height="1" fill="#555555"/>
<rect x="116" y="145" width="3" height="1" fill="#e872e8"/>
<rect x="120" y="145" width="1" height="1" fill="#e872e8"/>
<rect x="122" y="145" width="3" height="1" fill="#555555"/>
<rect x="126" y="145" width="2" height="1" fill="#e872e8"/>
<rect x="128" y="145" width="2" height="1" fill="#e872e8"/>
<rect x="130" y="145" width="2" height="1" fill="#e872e8"/>
<rect x="132" y="145" width="1" height="1" fill="#555555"/>
<rect x="133" y="145" width="1" height="1" fill="#555555"/>
<rect x="136" y="145" width="2" height="1" fill="#e872e8"/>
<rect x="138" y="145" width="2" height="1" fill="#e872e8"/>
<rect x="140" y="145" width="1" height="1" fill="#e872e8"/>
<rect x="141" y="145" width="1" height="1" fill="#e872e8"/>
<rect x="142" y="145" width="3" height="1" fill="#e872e8"/>
<rect x="145" y="145" width="2" height="1" fill="#e872e8"/>
<rect x="148" y="145" width="3" height="1" fill="#e872e8"/>
<rect x="153" y="145" width="3" height="1" fill="#555555"/>
<rect x="160" y="145" width="2" height="1" fill="#e872e8"/>
<rect x="162" y="145" width="2" height="1" fill="#e872e8"/>
<rect x="174" y="145" width="3" height="1" fill="#e872e8"/>
<rect x="177" y="145" width="1" height="1" fill="#e872e8"/>
<rect x="183" y="145" width="1" height="1" fill="#e872e8"/>
<rect x="185" y="145" width="1" height="1" fill="#e872e8"/>
<rect x="186" y="145" width="2" height="1" fill="#e872e8"/>
<rect x="190" y="145" width="1" height="1" fill="#e872e8"/>
<rect x="191" y="145" width="1" height="1" fill="#555555"/>
<rect x="196" y="145" width="2" height="1" fill="#555555"/>
<rect x="199" y="145" width="3" height="1" fill="#555555"/>
<rect x="206" y="145" width="3" height="1" fill="#555555"/>
<rect x="209" y="145" width="2" height="1" fill="#e872e8"/>
<rect x="213" y="145" width="3" height="1" fill="#555555"/>
<rect x="217" y="145" width="2" height="1" fill="#e872e8"/>
<rect x="219" y="145" width="1" height="1" fill="#e872e8"/>
<rect x="224" y="145" width="3" height="1" fill="#555555"/>
<rect x="227" y="145" width="2" height="1" fill="#555555"/>
<rect x="233" y="145" width="3" height="1" fill="#e872e8"/>
<rect x="238" y="145" width="3" height="1" fill="#e872e8"/>
<rect x="242" y="145" width="1" height="1" fill="#e872e8"/>
<rect x="243" y="145" width="1" height="1" fill="#555555"/>
<rect x="244" y="145" width="3" height="1" fill="#555555"/>
<rect x="247" y="145" width="2" height="1" fill="#555555"/>
<rect x="251" y="145" width="1" height="1" fill="#e872e8"/>
<rect x="256" y="145" width="1" height="1" fill="#e872e8"/>
<rect x="259" y="145" width="1" height="1" fill="#555555"/>
<rect x="260" y="145" width="3" height="1" fill="#e872e8"/>
<rect x="265" y="145" width="1" height="1" fill="#e872e8"/>
<rect x="266" y="145" width="1" height="1" fill="#e872e8"/>
<rect x="268" y="145" width="2" height="1" fill="#e872e8"/>
<rect x="270" y="145" width="1" height="1" fill="#e872e8"/>
<rect x="273" y="145" width="2" height="1" fill="#e872e8"/>
<rect x="278" y="145" width="3" height="1" fill="#e872e8"/>
<rect x="283" y="145" width="2" height="1" fill="#e872e8"/>
<rect x="285" y="145" width="2" height="1" fill="#555555"/>
<rect x="294" y="145" width="1" height="1" fill="#e872e8"/>
<rect x="295" y="145" width="3" height="1" fill="#555555"/>
<rect x="298" y="145" width="2" height="1" fill="#e872e8"/>
<rect x="300" y="145" width="3" height="1" fill="#e872e8"/>
<rect x="303" y="145" width="2" height="1" fill="#e872e8"/>
<rect x="305" y="145" width="3" height="1" fill="#e872e8"/>
<rect x="309" y="145" width="1" height="1" fill="#555555"/>
<rect x="310" y="145" width="1" height="1" fill="#e872e8"/>
<rect x="312" y="145" width="2" height="1" fill="#555555"/>
<rect x="314" y="145" width="1" height="1" fill="#e872e8"/>
<rect x="315" y="145" width="2" height="1" fill="#e872e8"/>
<rect x="317" y="145" width="1" height="1" fill="#e872e8"/>
<rect x="318" y="145" width="3" height="1" fill="#555555"/>
<rect x="328" y="145" width="2" height="1" fill="#e872e8"/>
<rect x="330" y="145" width="2" height="1" fill="#e872e8"/>
<rect x="332" y="145" width="2" height="1" fill="#e872e8"/>
<rect x="334" y="145" width="2" height="1" fill="#e872e8"/>
<rect x="336" y="145" width="3" height="1" fill="#e872e8"/>
<rect x="339" y="145" width="1" height="1" fill="#e872e8"/>
<rect x="342" y="145" width="3" height="1" fill="#e872e8"/>
<rect x="345" y="145" width="2" height="1" fill="#e872e8"/>
<rect x="348" y="145" width="1" height="1" fill="#e872e8"/>
<rect x="349" y="145" width="1" height="1" fill="#e872e8"/>
<rect x="350" y="145" width="2" height="1" fill="#e872e8"/>
<rect x="352" y="145" width="3" height="1" fill="#e872e8"/>
<rect x="355" y="145" width="2" height="1" fill="#e872e8"/>
<rect x="357" y="145" width="2" height="1" fill="#e872e8"/>
<rect x="359" y="145" width="1" height="1" fill="#555555"/>
<rect x="360" y="145" width="2" height="1" fill="#555555"/>
<rect x="362" y="145" width="3" height="1" fill="#e872e8"/>
<rect x="365" y="145" width="2" height="1" fill="#e872e8"/>
<rect x="367" y="145" width="3" height="1" fill="#e872e8"/>
<rect x="372" y="145" width="3" height="1" fill="#555555"/>
<rect x="375" y="145" width="1" height="1" fill="#e872e8"/>
<rect x="381" y="145" width="3" height="1" fill="#555555"/>
<rect x="384" y="145" width="2" height="1" fill="#555555"/>
<rect x="386" y="145" width="2" height="1" fill="#e872e8"/>
<rect x="396" y="145" width="1" height="1" fill="#555555"/>
<rect x="399" y="145" width="1" height="1" fill="#e872e8"/>
<rect x="400" y="145" width="3" height="1" fill="#e872e8"/>
<rect x="403" y="145" width="2" height="1" fill="#e872e8"/>
<rect x="407" y="145" width="3" height="1" fill="#e872e8"/>
<rect x="410" y="145" width="3" height="1" fill="#e872e8"/>
<rect x="414" y="145" width="3" height="1" fill="#e872e8"/>
<rect x="420" y="145" width="2" height="1" fill="#e872e8"/>
<rect x="422" y="145" width="2" height="1" fill="#e872e8"/>
<rect x="424" y="145" width="2" height="1" fill="#e872e8"/>
<rect x="427" y="145" width="3" height="1" fill="#e872e8"/>
<rect x="433" y="145" width="1" height="1" fill="#555555"/>
<rect x="434" y="145" width="3" height="1" fill="#e872e8"/>
<rect x="437" y="145" width="2" height="1" fill="#e872e8"/>
<rect x="442" y="145" width="1" height="1" fill="#e872e8"/>
<rect x="443" y="145" width="3" height="1" fill="#e872e8"/>
<rect x="447" y="145" width="2" height="1" fill="#e872e8"/>
<rect x="449" y="145" width="1" height="1" fill="#555555"/>
<rect x="452" y="145" width="1" height="1" fill="#e872e8"/>
<rect x="453" y="145" width="2" height="1" fill="#e872e8"/>
<rect x="455" y="145" width="3" height="1" fill="#e872e8"/>
<rect x="458" y="145" width="2" height="1" fill="#e872e8"/>
<rect x="460" y="145" width="2" height="1" fill="#e872e8"/>
<rect x="462" y="145" width="1" height="1" fill="#e872e8"/>
<rect x="467" y="145" width="1" height="1" fill="#e872e8"/>
<rect x="480" y="145" width="3" height="1" fill="#555555"/>
<rect x="483" y="145" width="3" height="1" fill="#555555"/>
<rect x="486" y="145" width="1" height="1" fill="#e872e8"/>
<rect x="487" y="145" width="1" height="1" fill="#e872e8"/>
<rect x="488" y="145" width="2" height="1" fill="#555555"/>
<rect x="494" y="145" width="2" height="1" fill="#e872e8"/>
<rect x="501" y="145" width="2" height="1" fill="#e872e8"/>
<rect x="503" y="145" width="2" height="1" fill="#e872e8"/>
<rect x="505" y="145" width="2" height="1" fill="#555555"/>
<rect x="507" y="145" width="1" height="1" fill="#555555"/>
<rect x="515" y="145" width="2" height="1" fill="#555555"/>
<rect x="526" y="145" width="2" height="1" fill="#e872e8"/>
<rect x="530" y="145" width="2" height="1" fill="#e872e8"/>
<rect x="532" y="145" width="1" height="1" fill="#e872e8"/>
<rect x="535" y="145" width="3" height="1" fill="#555555"/>
<rect x="540" y="145" width="1" height="1" fill="#e872e8"/>
<rect x="541" y="145" width="1" height="1" fill="#e872e8"/>
<rect x="542" y="145" width="2" height="1" fill="#e872e8"/>
<rect x="546" y="145" width="3" height="1" fill="#e872e8"/>
<rect x="551" y="145" width="1" height="1" fill="#e872e8"/>
<rect x="552" y="145" width="3" height="1" fill="#e872e8"/>
<rect x="555" y="145" width="1" height="1" fill="#e872e8"/>
<rect x="556" y="145" width="2" height="1" fill="#e872e8"/>
<rect x="563" y="145" width="3" height="1" fill="#e872e8"/>
<rect x="566" y="145" width="3" height="1" fill="#e872e8"/>
<rect x="572" y="145" width="3" height="1" fill="#e872e8"/>
<rect x="575" y="145" width="3" height="1" fill="#e872e8"/>
<rect x="582" y="145" width="1" height="1" fill="#e872e8"/>
<rect x="584" y="145" width="1" height="1" fill="#555555"/>
<rect x="589" y="145" width="3" height="1" fill="#e872e8"/>
<rect x="592" y="145" width="3" height="1" fill="#e872e8"/>
<rect x="597" y="145" width="1" height="1" fill="#555555"/>
<rect x="598" y="145" width="1" height="1" fill="#555555"/>
<rect x="599" y="145" width="3" height="1" fill="#e872e8"/>
<rect x="602" y="145" width="3" height="1" fill="#e872e8"/>
<rect x="605" y="145" width="3" height="1" fill="#e872e8"/>
<rect x="608" y="145" width="2" height="1" fill="#e872e8"/>
<rect x="614" y="145" width="1" height="1" fill="#e872e8"/>
<rect x="616" y="145" width="3" height="1" fill="#555555"/>
<rect x="625" y="145" width="3" height="1" fill="#e872e8"/>
<rect x="628" y="145" width="1" height="1" fill="#e872e8"/>
<rect x="629" y="145" width="2" height="1" fill="#e872e8"/>
<rect x="631" y="145" width="2" height="1" fill="#e872e8"/>
<rect x="633" y="145" width="2" height="1" fill="#555555"/>
<rect x="636" y="145" width="2" height="1" fill="#555555"/>
<rect x="639" y="145" width="2" height="1" fill="#555555"/>
<rect x="641" y="145" width="2" height="1" fill="#e872e8"/>
<rect x="645" y="145" width="2" height="1" fill="#e872e8"/>
<rect x="649" y="145" width="2" height="1" fill="#e872e8"/>
<rect x="651" y="145" width="2" height="1" fill="#e872e8"/>
<rect x="653" y="145" width="2" height="1" fill="#e872e8"/>
<rect x="659" y="145" width="2" height="1" fill="#555555"/>
<rect x="661" y="145" width="1" height="1" fill="#e872e8"/>
<rect x="666" y="145" width="2" height="1" fill="#e872e8"/>
<rect x="671" y="145" width="2" height="1" fill="#e872e8"/>
<rect x="673" y="145" width="1" height="1" fill="#555555"/>
<rect x="674" y="145" width="3" height="1" fill="#e872e8"/>
<rect x="680" y="145" width="3" height="1" fill="#e872e8"/>
<rect x="683" y="145" width="1" height="1" fill="#e872e8"/>
<rect x="107" y="144.10000000000002" width="15" height="1.4" fill="#000"/>
<polygon points="107.0,145.3 107.0,144.8 107.6,142.3 108.5,143.8 110.5,143.3 111.4,139.8 112.3,142.8 113.2,142.3 113.7,140.8 114.3,142.3 115.2,138.3 116.0,141.3 116.8,142.3 117.6,143.8 118.3,143.3 119.0,144.3 119.8,142.3 120.5,140.3 121.3,143.8 122.0,144.8 122.0,145.3" fill="#000"/>
<polygon points="157.3,145.3 157.3,144.8 158.3,143.3 159.0,140.8 159.8,142.3 160.5,140.3 161.2,142.8 162.0,143.8 163.0,144.8 163.0,145.3" fill="#000"/>
<polygon points="230.5,145.3 230.5,145.0 231.5,143.8 232.2,142.3 233.0,144.1 234.0,145.0 234.0,145.3" fill="#000"/>
<polygon points="351.0,145.3 351.0,144.8 353.0,143.8 354.5,142.8 355.7,138.8 356.6,138.3 357.3,135.3 358.0,132.5 359.0,132.5 359.8,137.3 360.6,140.8 361.4,139.3 362.2,135.5 363.0,137.3 364.0,142.3 365.0,143.8 366.5,144.8 366.5,145.3" fill="#000"/>
<rect x="357.60" y="132.20" width="1.40" height="0.90" fill="#e0106a"/>
<rect x="357.60" y="133.10" width="1.40" height="0.70" fill="#2020a0"/>
<polygon points="412.4,145.3 412.4,144.8 413.2,142.8 414.0,140.3 415.0,141.3 416.5,143.3 418.0,142.8 419.8,140.8 421.0,142.8 422.5,143.3 424.0,140.8 425.5,143.1 426.8,143.3 427.8,141.3 429.0,143.8 430.5,144.8 430.5,145.3" fill="#000"/>
<polygon points="432.5,145.3 432.5,144.8 434.0,143.8 435.5,142.8 436.5,139.8 437.5,139.3 438.5,142.3 440.0,143.5 441.6,144.8 441.6,145.3" fill="#000"/>
<polygon points="474.0,145.3 474.0,145.0 475.0,142.8 475.8,141.3 476.6,143.3 478.0,145.0 478.0,145.3" fill="#000"/>
<polygon points="679.0,145.3 679.0,145.0 680.5,142.3 681.4,140.3 682.5,141.8 684.0,144.8 684.0,145.3" fill="#000"/>
<polygon points="151.8,145.3 152.5,144.8 153.1,145.3" fill="#000"/>
<polygon points="231.4,145.3 232.8,144.7 234.2,145.3" fill="#000"/>
<polygon points="225.5,145.3 226.9,144.3 228.3,145.3" fill="#000"/>
<polygon points="317.0,145.3 318.1,143.9 319.2,145.3" fill="#000"/>
<polygon points="205.7,145.3 206.6,144.2 207.5,145.3" fill="#000"/>
<polygon points="137.4,145.3 138.8,144.7 140.2,145.3" fill="#000"/>
<polygon points="144.1,145.3 145.2,144.1 146.2,145.3" fill="#000"/>
<polygon points="184.6,145.3 185.5,144.6 186.4,145.3" fill="#000"/>
<polygon points="242.1,145.3 242.8,144.3 243.5,145.3" fill="#000"/>
<polygon points="129.8,145.3 130.6,144.4 131.4,145.3" fill="#000"/>
<polygon points="225.8,145.3 226.6,144.3 227.5,145.3" fill="#000"/>
<polygon points="193.4,145.3 194.2,144.3 194.9,145.3" fill="#000"/>
<polygon points="149.2,145.3 150.6,144.1 151.9,145.3" fill="#000"/>
<polygon points="182.3,145.3 183.0,144.4 183.7,145.3" fill="#000"/>
<polygon points="128.3,145.3 129.7,144.4 131.0,145.3" fill="#000"/>
<polygon points="309.5,145.3 310.5,144.4 311.4,145.3" fill="#000"/>
<polygon points="199.3,145.3 200.8,144.2 202.4,145.3" fill="#000"/>
<polygon points="211.6,145.3 212.4,144.8 213.2,145.3" fill="#000"/>
<polygon points="129.4,145.3 130.6,144.5 131.8,145.3" fill="#000"/>
<polygon points="247.6,145.3 248.6,144.8 249.6,145.3" fill="#000"/>
<polygon points="215.1,145.3 216.2,144.0 217.3,145.3" fill="#000"/>
<polygon points="338.8,145.3 340.1,144.1 341.4,145.3" fill="#000"/>
<polygon points="466.9,145.3 467.6,144.2 468.4,145.3" fill="#000"/>
<polygon points="639.7,145.3 641.3,143.9 642.8,145.3" fill="#000"/>
<polygon points="672.8,145.3 673.8,144.1 674.9,145.3" fill="#000"/>
<polygon points="675.3,145.3 676.2,144.3 677.0,145.3" fill="#000"/>
<polygon points="573.2,145.3 574.3,144.6 575.4,145.3" fill="#000"/>
<polygon points="479.0,145.3 480.3,144.7 481.6,145.3" fill="#000"/>
<polygon points="604.6,145.3 605.6,144.3 606.6,145.3" fill="#000"/>
<polygon points="441.3,145.3 442.0,144.4 442.8,145.3" fill="#000"/>
<polygon points="589.1,145.3 590.4,144.5 591.6,145.3" fill="#000"/>
<polygon points="470.3,145.3 471.4,144.7 472.5,145.3" fill="#000"/>
<polygon points="475.1,145.3 476.5,144.6 477.9,145.3" fill="#000"/>
<polygon points="543.4,145.3 544.0,144.6 544.6,145.3" fill="#000"/>
<polygon points="464.2,145.3 465.1,144.7 466.0,145.3" fill="#000"/>
<polygon points="530.9,145.3 532.1,143.9 533.3,145.3" fill="#000"/>
<polygon points="663.3,145.3 664.3,144.8 665.3,145.3" fill="#000"/>
<polygon points="473.5,145.3 474.2,144.3 474.9,145.3" fill="#000"/>
<polygon points="570.3,145.3 571.0,143.9 571.8,145.3" fill="#000"/>
<polygon points="641.9,145.3 643.2,144.3 644.6,145.3" fill="#000"/>
<polygon points="566.4,145.3 567.4,143.9 568.5,145.3" fill="#000"/>
<polygon points="536.9,145.3 537.8,144.3 538.7,145.3" fill="#000"/>
<polygon points="474.8,145.3 475.8,144.3 476.8,145.3" fill="#000"/>
<polygon points="620.2,145.3 621.6,144.5 622.9,145.3" fill="#000"/>
<rect x="113" y="167" width="2" height="1" fill="#9a9acc"/>
<rect x="116" y="167" width="2" height="1" fill="#6a6a6a"/>
<rect x="128" y="167" width="2" height="1" fill="#6a6a6a"/>
<rect x="130" y="167" width="2" height="1" fill="#6a6a6a"/>
<rect x="133" y="167" width="2" height="1" fill="#9a9acc"/>
<rect x="141" y="167" width="2" height="1" fill="#6a6a6a"/>
<rect x="143" y="167" width="2" height="1" fill="#6a6a6a"/>
<rect x="150" y="167" width="1" height="1" fill="#6a6a6a"/>
<rect x="154" y="167" width="2" height="1" fill="#6a6a6a"/>
<rect x="159" y="167" width="1" height="1" fill="#6a6a6a"/>
<rect x="170" y="167" width="1" height="1" fill="#6a6a6a"/>
<rect x="171" y="167" width="2" height="1" fill="#9a9acc"/>
<rect x="173" y="167" width="2" height="1" fill="#6a6a6a"/>
<rect x="175" y="167" width="1" height="1" fill="#6a6a6a"/>
<rect x="176" y="167" width="2" height="1" fill="#9a9acc"/>
<rect x="178" y="167" width="1" height="1" fill="#6a6a6a"/>
<rect x="186" y="167" width="2" height="1" fill="#9a9acc"/>
<rect x="188" y="167" width="2" height="1" fill="#6a6a6a"/>
<rect x="192" y="167" width="2" height="1" fill="#6a6a6a"/>
<rect x="205" y="167" width="2" height="1" fill="#6a6a6a"/>
<rect x="209" y="167" width="1" height="1" fill="#6a6a6a"/>
<rect x="224" y="167" width="2" height="1" fill="#9a9acc"/>
<rect x="229" y="167" width="2" height="1" fill="#6a6a6a"/>
<rect x="231" y="167" width="1" height="1" fill="#6a6a6a"/>
<rect x="234" y="167" width="2" height="1" fill="#6a6a6a"/>
<rect x="236" y="167" width="2" height="1" fill="#6a6a6a"/>
<rect x="241" y="167" width="2" height="1" fill="#6a6a6a"/>
<rect x="247" y="167" width="1" height="1" fill="#6a6a6a"/>
<rect x="249" y="167" width="2" height="1" fill="#9a9acc"/>
<rect x="252" y="167" width="2" height="1" fill="#6a6a6a"/>
<rect x="256" y="167" width="2" height="1" fill="#6a6a6a"/>
<rect x="264" y="167" width="2" height="1" fill="#6a6a6a"/>
<rect x="266" y="167" width="1" height="1" fill="#9a9acc"/>
<rect x="269" y="167" width="2" height="1" fill="#6a6a6a"/>
<rect x="273" y="167" width="2" height="1" fill="#9a9acc"/>
<rect x="275" y="167" width="2" height="1" fill="#6a6a6a"/>
<rect x="277" y="167" width="2" height="1" fill="#6a6a6a"/>
<rect x="282" y="167" width="2" height="1" fill="#6a6a6a"/>
<rect x="293" y="167" width="1" height="1" fill="#9a9acc"/>
<rect x="294" y="167" width="1" height="1" fill="#6a6a6a"/>
<rect x="295" y="167" width="2" height="1" fill="#6a6a6a"/>
<rect x="302" y="167" width="2" height="1" fill="#6a6a6a"/>
<rect x="304" y="167" width="1" height="1" fill="#6a6a6a"/>
<rect x="305" y="167" width="2" height="1" fill="#6a6a6a"/>
<rect x="316" y="167" width="2" height="1" fill="#6a6a6a"/>
<rect x="318" y="167" width="2" height="1" fill="#6a6a6a"/>
<rect x="320" y="167" width="1" height="1" fill="#6a6a6a"/>
<rect x="327" y="167" width="2" height="1" fill="#6a6a6a"/>
<rect x="330" y="167" width="2" height="1" fill="#9a9acc"/>
<rect x="332" y="167" width="2" height="1" fill="#9a9acc"/>
<rect x="339" y="167" width="2" height="1" fill="#9a9acc"/>
<rect x="347" y="167" width="2" height="1" fill="#6a6a6a"/>
<rect x="354" y="167" width="2" height="1" fill="#6a6a6a"/>
<rect x="356" y="167" width="1" height="1" fill="#6a6a6a"/>
<rect x="359" y="167" width="1" height="1" fill="#6a6a6a"/>
<rect x="364" y="167" width="2" height="1" fill="#6a6a6a"/>
<rect x="366" y="167" width="2" height="1" fill="#6a6a6a"/>
<rect x="369" y="167" width="1" height="1" fill="#6a6a6a"/>
<rect x="370" y="167" width="1" height="1" fill="#6a6a6a"/>
<rect x="374" y="167" width="1" height="1" fill="#9a9acc"/>
<rect x="375" y="167" width="1" height="1" fill="#9a9acc"/>
<rect x="386" y="167" width="1" height="1" fill="#6a6a6a"/>
<rect x="389" y="167" width="1" height="1" fill="#6a6a6a"/>
<rect x="422" y="167" width="2" height="1" fill="#9a9acc"/>
<rect x="425" y="167" width="2" height="1" fill="#6a6a6a"/>
<rect x="427" y="167" width="2" height="1" fill="#9a9acc"/>
<rect x="431" y="167" width="2" height="1" fill="#6a6a6a"/>
<rect x="440" y="167" width="1" height="1" fill="#6a6a6a"/>
<rect x="441" y="167" width="1" height="1" fill="#9a9acc"/>
<rect x="444" y="167" width="1" height="1" fill="#6a6a6a"/>
<rect x="449" y="167" width="1" height="1" fill="#9a9acc"/>
<rect x="451" y="167" width="2" height="1" fill="#6a6a6a"/>
<rect x="453" y="167" width="2" height="1" fill="#6a6a6a"/>
<rect x="455" y="167" width="1" height="1" fill="#6a6a6a"/>
<rect x="458" y="167" width="1" height="1" fill="#6a6a6a"/>
<rect x="459" y="167" width="2" height="1" fill="#9a9acc"/>
<rect x="461" y="167" width="2" height="1" fill="#6a6a6a"/>
<rect x="463" y="167" width="1" height="1" fill="#6a6a6a"/>
<rect x="470" y="167" width="2" height="1" fill="#6a6a6a"/>
<rect x="472" y="167" width="2" height="1" fill="#6a6a6a"/>
<rect x="474" y="167" width="1" height="1" fill="#6a6a6a"/>
<rect x="475" y="167" width="1" height="1" fill="#6a6a6a"/>
<rect x="476" y="167" width="1" height="1" fill="#6a6a6a"/>
<rect x="477" y="167" width="2" height="1" fill="#6a6a6a"/>
<rect x="479" y="167" width="2" height="1" fill="#6a6a6a"/>
<rect x="482" y="167" width="2" height="1" fill="#6a6a6a"/>
<rect x="486" y="167" width="1" height="1" fill="#6a6a6a"/>
<rect x="488" y="167" width="1" height="1" fill="#6a6a6a"/>
<rect x="493" y="167" width="2" height="1" fill="#9a9acc"/>
<rect x="497" y="167" width="2" height="1" fill="#6a6a6a"/>
<rect x="501" y="167" width="2" height="1" fill="#9a9acc"/>
<rect x="504" y="167" width="1" height="1" fill="#6a6a6a"/>
<rect x="506" y="167" width="1" height="1" fill="#6a6a6a"/>
<rect x="515" y="167" width="1" height="1" fill="#6a6a6a"/>
<rect x="516" y="167" width="1" height="1" fill="#6a6a6a"/>
<rect x="518" y="167" width="1" height="1" fill="#6a6a6a"/>
<rect x="519" y="167" width="2" height="1" fill="#6a6a6a"/>
<rect x="521" y="167" width="2" height="1" fill="#6a6a6a"/>
<rect x="527" y="167" width="2" height="1" fill="#6a6a6a"/>
<rect x="529" y="167" width="2" height="1" fill="#6a6a6a"/>
<rect x="533" y="167" width="2" height="1" fill="#6a6a6a"/>
<rect x="537" y="167" width="2" height="1" fill="#6a6a6a"/>
<rect x="539" y="167" width="2" height="1" fill="#9a9acc"/>
<rect x="553" y="167" width="2" height="1" fill="#9a9acc"/>
<rect x="555" y="167" width="2" height="1" fill="#6a6a6a"/>
<rect x="561" y="167" width="2" height="1" fill="#9a9acc"/>
<rect x="565" y="167" width="1" height="1" fill="#9a9acc"/>
<rect x="566" y="167" width="1" height="1" fill="#6a6a6a"/>
<rect x="568" y="167" width="1" height="1" fill="#6a6a6a"/>
<rect x="571" y="167" width="1" height="1" fill="#6a6a6a"/>
<rect x="574" y="167" width="1" height="1" fill="#6a6a6a"/>
<rect x="578" y="167" width="1" height="1" fill="#6a6a6a"/>
<rect x="582" y="167" width="2" height="1" fill="#6a6a6a"/>
<rect x="584" y="167" width="2" height="1" fill="#9a9acc"/>
<rect x="586" y="167" width="1" height="1" fill="#9a9acc"/>
<rect x="587" y="167" width="1" height="1" fill="#6a6a6a"/>
<rect x="591" y="167" width="1" height="1" fill="#6a6a6a"/>
<rect x="598" y="167" width="1" height="1" fill="#9a9acc"/>
<rect x="603" y="167" width="1" height="1" fill="#6a6a6a"/>
<rect x="604" y="167" width="2" height="1" fill="#6a6a6a"/>
<rect x="606" y="167" width="1" height="1" fill="#9a9acc"/>
<rect x="607" y="167" width="1" height="1" fill="#6a6a6a"/>
<rect x="608" y="167" width="1" height="1" fill="#6a6a6a"/>
<rect x="609" y="167" width="2" height="1" fill="#6a6a6a"/>
<rect x="611" y="167" width="2" height="1" fill="#6a6a6a"/>
<rect x="616" y="167" width="1" height="1" fill="#6a6a6a"/>
<rect x="621" y="167" width="1" height="1" fill="#6a6a6a"/>
<rect x="624" y="167" width="1" height="1" fill="#9a9acc"/>
<rect x="625" y="167" width="2" height="1" fill="#6a6a6a"/>
<rect x="631" y="167" width="1" height="1" fill="#6a6a6a"/>
<rect x="633" y="167" width="1" height="1" fill="#6a6a6a"/>
<rect x="634" y="167" width="2" height="1" fill="#6a6a6a"/>
<rect x="636" y="167" width="2" height="1" fill="#6a6a6a"/>
<rect x="640" y="167" width="1" height="1" fill="#9a9acc"/>
<rect x="646" y="167" width="2" height="1" fill="#9a9acc"/>
<rect x="653" y="167" width="2" height="1" fill="#6a6a6a"/>
<rect x="655" y="167" width="2" height="1" fill="#6a6a6a"/>
<rect x="657" y="167" width="2" height="1" fill="#6a6a6a"/>
<rect x="666" y="167" width="2" height="1" fill="#6a6a6a"/>
<rect x="669" y="167" width="2" height="1" fill="#6a6a6a"/>
<rect x="676" y="167" width="2" height="1" fill="#6a6a6a"/>
<rect x="678" y="167" width="2" height="1" fill="#9a9acc"/>
<rect x="683" y="167" width="1" height="1" fill="#9a9acc"/>
<polygon points="109.8,167.0 109.8,166.7 110.6,165.0 111.6,161.0 112.4,157.0 113.0,156.0 113.6,159.0 114.4,163.0 115.4,165.5 116.4,166.7 116.4,167.0" fill="#000"/>
<polygon points="424.3,167.0 424.3,166.7 425.5,164.0 426.6,160.0 427.6,156.0 428.5,154.0 431.2,154.0 431.6,166.7 431.6,167.0" fill="#000"/>
<polygon points="432.6,167.0 432.6,166.7 432.9,154.0 436.2,154.0 436.8,159.0 437.3,164.0 437.7,166.7 437.7,167.0" fill="#000"/>
<rect x="428.50" y="153.70" width="2.70" height="0.90" fill="#e0106a"/>
<rect x="428.50" y="154.60" width="2.70" height="0.70" fill="#2020a0"/>
<rect x="432.90" y="153.70" width="3.30" height="0.90" fill="#e0106a"/>
<rect x="432.90" y="154.60" width="3.30" height="0.70" fill="#2020a0"/>
<polygon points="552.3,167.0 552.3,166.7 552.7,163.5 553.1,166.7 553.1,167.0" fill="#000"/>
<rect x="116" y="188" width="2" height="1" fill="#555555"/>
<rect x="118" y="188" width="1" height="1" fill="#e872e8"/>
<rect x="119" y="188" width="1" height="1" fill="#e872e8"/>
<rect x="120" y="188" width="2" height="1" fill="#e872e8"/>
<rect x="126" y="188" width="1" height="1" fill="#555555"/>
<rect x="132" y="188" width="1" height="1" fill="#e872e8"/>
<rect x="133" y="188" width="2" height="1" fill="#e872e8"/>
<rect x="138" y="188" width="1" height="1" fill="#e872e8"/>
<rect x="139" y="188" width="2" height="1" fill="#e872e8"/>
<rect x="142" y="188" width="1" height="1" fill="#e872e8"/>
<rect x="145" y="188" width="3" height="1" fill="#555555"/>
<rect x="148" y="188" width="2" height="1" fill="#e872e8"/>
<rect x="151" y="188" width="2" height="1" fill="#555555"/>
<rect x="153" y="188" width="2" height="1" fill="#555555"/>
<rect x="155" y="188" width="2" height="1" fill="#e872e8"/>
<rect x="159" y="188" width="3" height="1" fill="#e872e8"/>
<rect x="162" y="188" width="2" height="1" fill="#555555"/>
<rect x="166" y="188" width="1" height="1" fill="#e872e8"/>
<rect x="167" y="188" width="1" height="1" fill="#e872e8"/>
<rect x="168" y="188" width="1" height="1" fill="#555555"/>
<rect x="169" y="188" width="2" height="1" fill="#e872e8"/>
<rect x="175" y="188" width="1" height="1" fill="#e872e8"/>
<rect x="178" y="188" width="3" height="1" fill="#555555"/>
<rect x="181" y="188" width="2" height="1" fill="#e872e8"/>
<rect x="185" y="188" width="1" height="1" fill="#e872e8"/>
<rect x="186" y="188" width="2" height="1" fill="#e872e8"/>
<rect x="188" y="188" width="1" height="1" fill="#e872e8"/>
<rect x="189" y="188" width="2" height="1" fill="#555555"/>
<rect x="194" y="188" width="1" height="1" fill="#e872e8"/>
<rect x="195" y="188" width="3" height="1" fill="#e872e8"/>
<rect x="203" y="188" width="3" height="1" fill="#555555"/>
<rect x="210" y="188" width="3" height="1" fill="#e872e8"/>
<rect x="220" y="188" width="3" height="1" fill="#e872e8"/>
<rect x="223" y="188" width="3" height="1" fill="#e872e8"/>
<rect x="226" y="188" width="2" height="1" fill="#e872e8"/>
<rect x="228" y="188" width="2" height="1" fill="#e872e8"/>
<rect x="233" y="188" width="1" height="1" fill="#555555"/>
<rect x="242" y="188" width="1" height="1" fill="#555555"/>
<rect x="243" y="188" width="2" height="1" fill="#555555"/>
<rect x="245" y="188" width="3" height="1" fill="#e872e8"/>
<rect x="250" y="188" width="2" height="1" fill="#e872e8"/>
<rect x="253" y="188" width="1" height="1" fill="#555555"/>
<rect x="255" y="188" width="2" height="1" fill="#e872e8"/>
<rect x="260" y="188" width="3" height="1" fill="#e872e8"/>
<rect x="266" y="188" width="2" height="1" fill="#555555"/>
<rect x="268" y="188" width="1" height="1" fill="#e872e8"/>
<rect x="269" y="188" width="3" height="1" fill="#555555"/>
<rect x="272" y="188" width="1" height="1" fill="#e872e8"/>
<rect x="274" y="188" width="3" height="1" fill="#e872e8"/>
<rect x="277" y="188" width="2" height="1" fill="#e872e8"/>
<rect x="279" y="188" width="2" height="1" fill="#e872e8"/>
<rect x="281" y="188" width="3" height="1" fill="#e872e8"/>
<rect x="288" y="188" width="2" height="1" fill="#e872e8"/>
<rect x="290" y="188" width="1" height="1" fill="#e872e8"/>
<rect x="291" y="188" width="2" height="1" fill="#e872e8"/>
<rect x="297" y="188" width="1" height="1" fill="#555555"/>
<rect x="300" y="188" width="2" height="1" fill="#e872e8"/>
<rect x="302" y="188" width="3" height="1" fill="#555555"/>
<rect x="305" y="188" width="1" height="1" fill="#555555"/>
<rect x="306" y="188" width="3" height="1" fill="#e872e8"/>
<rect x="309" y="188" width="3" height="1" fill="#555555"/>
<rect x="314" y="188" width="1" height="1" fill="#e872e8"/>
<rect x="316" y="188" width="3" height="1" fill="#e872e8"/>
<rect x="319" y="188" width="1" height="1" fill="#555555"/>
<rect x="322" y="188" width="2" height="1" fill="#555555"/>
<rect x="324" y="188" width="2" height="1" fill="#e872e8"/>
<rect x="326" y="188" width="2" height="1" fill="#555555"/>
<rect x="328" y="188" width="1" height="1" fill="#e872e8"/>
<rect x="329" y="188" width="1" height="1" fill="#e872e8"/>
<rect x="330" y="188" width="1" height="1" fill="#555555"/>
<rect x="331" y="188" width="2" height="1" fill="#e872e8"/>
<rect x="333" y="188" width="3" height="1" fill="#e872e8"/>
<rect x="336" y="188" width="3" height="1" fill="#e872e8"/>
<rect x="343" y="188" width="2" height="1" fill="#e872e8"/>
<rect x="347" y="188" width="2" height="1" fill="#e872e8"/>
<rect x="350" y="188" width="2" height="1" fill="#e872e8"/>
<rect x="354" y="188" width="3" height="1" fill="#555555"/>
<rect x="358" y="188" width="2" height="1" fill="#555555"/>
<rect x="360" y="188" width="3" height="1" fill="#e872e8"/>
<rect x="363" y="188" width="2" height="1" fill="#e872e8"/>
<rect x="365" y="188" width="1" height="1" fill="#555555"/>
<rect x="366" y="188" width="1" height="1" fill="#e872e8"/>
<rect x="367" y="188" width="3" height="1" fill="#e872e8"/>
<rect x="370" y="188" width="3" height="1" fill="#e872e8"/>
<rect x="373" y="188" width="1" height="1" fill="#555555"/>
<rect x="374" y="188" width="3" height="1" fill="#e872e8"/>
<rect x="378" y="188" width="3" height="1" fill="#e872e8"/>
<rect x="384" y="188" width="2" height="1" fill="#e872e8"/>
<rect x="386" y="188" width="2" height="1" fill="#e872e8"/>
<rect x="388" y="188" width="1" height="1" fill="#e872e8"/>
<rect x="395" y="188" width="2" height="1" fill="#e872e8"/>
<rect x="398" y="188" width="2" height="1" fill="#e872e8"/>
<rect x="405" y="188" width="2" height="1" fill="#e872e8"/>
<rect x="407" y="188" width="2" height="1" fill="#e872e8"/>
<rect x="409" y="188" width="1" height="1" fill="#e872e8"/>
<rect x="410" y="188" width="3" height="1" fill="#e872e8"/>
<rect x="413" y="188" width="3" height="1" fill="#555555"/>
<rect x="416" y="188" width="2" height="1" fill="#e872e8"/>
<rect x="418" y="188" width="1" height="1" fill="#555555"/>
<rect x="421" y="188" width="3" height="1" fill="#e872e8"/>
<rect x="424" y="188" width="2" height="1" fill="#e872e8"/>
<rect x="428" y="188" width="1" height="1" fill="#e872e8"/>
<rect x="429" y="188" width="2" height="1" fill="#e872e8"/>
<rect x="431" y="188" width="3" height="1" fill="#e872e8"/>
<rect x="435" y="188" width="3" height="1" fill="#e872e8"/>
<rect x="438" y="188" width="1" height="1" fill="#e872e8"/>
<rect x="439" y="188" width="3" height="1" fill="#555555"/>
<rect x="442" y="188" width="3" height="1" fill="#e872e8"/>
<rect x="445" y="188" width="2" height="1" fill="#e872e8"/>
<rect x="447" y="188" width="1" height="1" fill="#e872e8"/>
<rect x="448" y="188" width="3" height="1" fill="#e872e8"/>
<rect x="453" y="188" width="1" height="1" fill="#e872e8"/>
<rect x="455" y="188" width="2" height="1" fill="#555555"/>
<rect x="457" y="188" width="2" height="1" fill="#e872e8"/>
<rect x="461" y="188" width="3" height="1" fill="#e872e8"/>
<rect x="464" y="188" width="2" height="1" fill="#555555"/>
<rect x="466" y="188" width="2" height="1" fill="#555555"/>
<rect x="474" y="188" width="1" height="1" fill="#e872e8"/>
<rect x="476" y="188" width="2" height="1" fill="#e872e8"/>
<rect x="478" y="188" width="1" height="1" fill="#e872e8"/>
<rect x="480" y="188" width="2" height="1" fill="#555555"/>
<rect x="482" y="188" width="1" height="1" fill="#e872e8"/>
<rect x="483" y="188" width="2" height="1" fill="#e872e8"/>
<rect x="485" y="188" width="1" height="1" fill="#555555"/>
<rect x="490" y="188" width="3" height="1" fill="#e872e8"/>
<rect x="498" y="188" width="3" height="1" fill="#e872e8"/>
<rect x="502" y="188" width="3" height="1" fill="#555555"/>
<rect x="509" y="188" width="3" height="1" fill="#555555"/>
<rect x="512" y="188" width="1" height="1" fill="#e872e8"/>
<rect x="515" y="188" width="3" height="1" fill="#555555"/>
<rect x="518" y="188" width="3" height="1" fill="#e872e8"/>
<rect x="521" y="188" width="2" height="1" fill="#e872e8"/>
<rect x="523" y="188" width="2" height="1" fill="#e872e8"/>
<rect x="525" y="188" width="2" height="1" fill="#555555"/>
<rect x="527" y="188" width="1" height="1" fill="#555555"/>
<rect x="528" y="188" width="3" height="1" fill="#e872e8"/>
<rect x="531" y="188" width="3" height="1" fill="#e872e8"/>
<rect x="542" y="188" width="3" height="1" fill="#e872e8"/>
<rect x="549" y="188" width="2" height="1" fill="#e872e8"/>
<rect x="551" y="188" width="3" height="1" fill="#e872e8"/>
<rect x="556" y="188" width="2" height="1" fill="#555555"/>
<rect x="558" y="188" width="3" height="1" fill="#555555"/>
<rect x="561" y="188" width="3" height="1" fill="#555555"/>
<rect x="564" y="188" width="1" height="1" fill="#e872e8"/>
<rect x="565" y="188" width="2" height="1" fill="#e872e8"/>
<rect x="567" y="188" width="1" height="1" fill="#555555"/>
<rect x="570" y="188" width="1" height="1" fill="#e872e8"/>
<rect x="573" y="188" width="1" height="1" fill="#e872e8"/>
<rect x="574" y="188" width="3" height="1" fill="#e872e8"/>
<rect x="577" y="188" width="3" height="1" fill="#e872e8"/>
<rect x="582" y="188" width="2" height="1" fill="#555555"/>
<rect x="584" y="188" width="2" height="1" fill="#e872e8"/>
<rect x="587" y="188" width="1" height="1" fill="#e872e8"/>
<rect x="588" y="188" width="3" height="1" fill="#555555"/>
<rect x="594" y="188" width="2" height="1" fill="#e872e8"/>
<rect x="596" y="188" width="2" height="1" fill="#e872e8"/>
<rect x="599" y="188" width="2" height="1" fill="#e872e8"/>
<rect x="601" y="188" width="3" height="1" fill="#e872e8"/>
<rect x="604" y="188" width="1" height="1" fill="#e872e8"/>
<rect x="605" y="188" width="3" height="1" fill="#555555"/>
<rect x="608" y="188" width="1" height="1" fill="#e872e8"/>
<rect x="610" y="188" width="3" height="1" fill="#e872e8"/>
<rect x="613" y="188" width="2" height="1" fill="#555555"/>
<rect x="618" y="188" width="2" height="1" fill="#555555"/>
<rect x="620" y="188" width="1" height="1" fill="#e872e8"/>
<rect x="621" y="188" width="1" height="1" fill="#e872e8"/>
<rect x="622" y="188" width="2" height="1" fill="#e872e8"/>
<rect x="624" y="188" width="2" height="1" fill="#e872e8"/>
<rect x="627" y="188" width="2" height="1" fill="#e872e8"/>
<rect x="629" y="188" width="3" height="1" fill="#555555"/>
<rect x="635" y="188" width="1" height="1" fill="#e872e8"/>
<rect x="636" y="188" width="3" height="1" fill="#e872e8"/>
<rect x="641" y="188" width="1" height="1" fill="#e872e8"/>
<rect x="642" y="188" width="1" height="1" fill="#e872e8"/>
<rect x="648" y="188" width="1" height="1" fill="#e872e8"/>
<rect x="650" y="188" width="1" height="1" fill="#555555"/>
<rect x="651" y="188" width="3" height="1" fill="#e872e8"/>
<rect x="655" y="188" width="3" height="1" fill="#e872e8"/>
<rect x="660" y="188" width="1" height="1" fill="#e872e8"/>
<rect x="665" y="188" width="1" height="1" fill="#555555"/>
<rect x="666" y="188" width="2" height="1" fill="#e872e8"/>
<rect x="668" y="188" width="3" height="1" fill="#e872e8"/>
<rect x="671" y="188" width="1" height="1" fill="#e872e8"/>
<rect x="672" y="188" width="1" height="1" fill="#e872e8"/>
<rect x="673" y="188" width="3" height="1" fill="#e872e8"/>
<rect x="682" y="188" width="2" height="1" fill="#e872e8"/>
<polygon points="110.5,188.8 110.5,188.5 111.0,180.8 111.5,175.8 116.0,175.8 116.5,182.8 117.2,188.5 117.2,188.8" fill="#000"/>
<rect x="111.50" y="175.50" width="4.50" height="0.90" fill="#e0106a"/>
<rect x="111.50" y="176.40" width="4.50" height="0.70" fill="#2020a0"/>
<polygon points="354.5,188.8 354.5,188.5 355.8,186.8 356.6,183.8 357.3,179.8 357.8,176.8 358.5,176.5 359.2,179.8 360.0,182.8 361.0,184.8 362.0,186.8 363.5,187.8 364.5,188.5 364.5,188.8" fill="#000"/>
<rect x="357.60" y="176.20" width="1.00" height="0.90" fill="#e0106a"/>
<rect x="357.60" y="177.10" width="1.00" height="0.70" fill="#2020a0"/>
<polygon points="424.5,188.8 424.5,188.5 425.2,182.8 425.6,175.8 431.4,175.8 431.7,188.5 431.7,188.8" fill="#000"/>
<polygon points="432.5,188.8 432.5,188.5 432.8,175.8 438.2,175.8 438.6,182.8 439.0,188.5 439.0,188.8" fill="#000"/>
<rect x="425.60" y="175.50" width="5.80" height="0.90" fill="#e0106a"/>
<rect x="425.60" y="176.40" width="5.80" height="0.70" fill="#2020a0"/>
<rect x="432.80" y="175.50" width="5.40" height="0.90" fill="#e0106a"/>
<rect x="432.80" y="176.40" width="5.40" height="0.70" fill="#2020a0"/>
<polygon points="291.4,188.8 292.0,187.9 292.6,188.8" fill="#000"/>
<polygon points="226.5,188.8 227.6,187.9 228.7,188.8" fill="#000"/>
<polygon points="259.9,188.8 261.3,187.6 262.8,188.8" fill="#000"/>
<polygon points="187.1,188.8 188.1,187.8 189.1,188.8" fill="#000"/>
<polygon points="147.1,188.8 148.6,188.2 150.2,188.8" fill="#000"/>
<polygon points="334.3,188.8 335.5,187.8 336.7,188.8" fill="#000"/>
<polygon points="218.7,188.8 219.7,188.0 220.8,188.8" fill="#000"/>
<polygon points="122.4,188.8 123.6,188.2 124.7,188.8" fill="#000"/>
<polygon points="257.2,188.8 258.4,188.2 259.5,188.8" fill="#000"/>
<polygon points="154.8,188.8 155.5,187.9 156.2,188.8" fill="#000"/>
<polygon points="299.9,188.8 301.1,187.7 302.3,188.8" fill="#000"/>
<polygon points="314.6,188.8 315.9,187.7 317.2,188.8" fill="#000"/>
<polygon points="321.5,188.8 322.3,188.1 323.0,188.8" fill="#000"/>
<polygon points="327.7,188.8 328.8,187.7 329.9,188.8" fill="#000"/>
<polygon points="581.7,188.8 583.0,188.2 584.2,188.8" fill="#000"/>
<polygon points="641.9,188.8 643.0,187.8 644.1,188.8" fill="#000"/>
<polygon points="633.5,188.8 634.8,187.8 636.1,188.8" fill="#000"/>
<polygon points="460.9,188.8 461.9,188.1 462.9,188.8" fill="#000"/>
<polygon points="560.6,188.8 561.4,188.2 562.3,188.8" fill="#000"/>
<polygon points="561.6,188.8 563.1,188.1 564.6,188.8" fill="#000"/>
<polygon points="534.2,188.8 534.9,188.0 535.7,188.8" fill="#000"/>
<polygon points="491.9,188.8 492.6,188.1 493.2,188.8" fill="#000"/>
<polygon points="456.0,188.8 457.3,188.1 458.5,188.8" fill="#000"/>
<polygon points="560.2,188.8 561.2,188.2 562.3,188.8" fill="#000"/>
<rect x="112" y="210" width="2" height="1" fill="#e872e8"/>
<rect x="118" y="210" width="1" height="1" fill="#e872e8"/>
<rect x="125" y="210" width="3" height="1" fill="#e872e8"/>
<rect x="128" y="210" width="1" height="1" fill="#e872e8"/>
<rect x="131" y="210" width="3" height="1" fill="#555555"/>
<rect x="139" y="210" width="1" height="1" fill="#e872e8"/>
<rect x="140" y="210" width="2" height="1" fill="#e872e8"/>
<rect x="143" y="210" width="3" height="1" fill="#e872e8"/>
<rect x="146" y="210" width="2" height="1" fill="#555555"/>
<rect x="148" y="210" width="1" height="1" fill="#e872e8"/>
<rect x="151" y="210" width="3" height="1" fill="#555555"/>
<rect x="154" y="210" width="3" height="1" fill="#555555"/>
<rect x="158" y="210" width="3" height="1" fill="#e872e8"/>
<rect x="161" y="210" width="3" height="1" fill="#555555"/>
<rect x="167" y="210" width="3" height="1" fill="#e872e8"/>
<rect x="170" y="210" width="1" height="1" fill="#e872e8"/>
<rect x="171" y="210" width="3" height="1" fill="#555555"/>
<rect x="174" y="210" width="2" height="1" fill="#e872e8"/>
<rect x="176" y="210" width="3" height="1" fill="#e872e8"/>
<rect x="179" y="210" width="2" height="1" fill="#e872e8"/>
<rect x="181" y="210" width="1" height="1" fill="#e872e8"/>
<rect x="182" y="210" width="3" height="1" fill="#e872e8"/>
<rect x="185" y="210" width="2" height="1" fill="#e872e8"/>
<rect x="187" y="210" width="3" height="1" fill="#e872e8"/>
<rect x="192" y="210" width="1" height="1" fill="#e872e8"/>
<rect x="193" y="210" width="3" height="1" fill="#e872e8"/>
<rect x="199" y="210" width="3" height="1" fill="#e872e8"/>
<rect x="205" y="210" width="1" height="1" fill="#e872e8"/>
<rect x="206" y="210" width="2" height="1" fill="#555555"/>
<rect x="210" y="210" width="1" height="1" fill="#e872e8"/>
<rect x="212" y="210" width="2" height="1" fill="#e872e8"/>
<rect x="214" y="210" width="3" height="1" fill="#555555"/>
<rect x="217" y="210" width="1" height="1" fill="#e872e8"/>
<rect x="220" y="210" width="1" height="1" fill="#e872e8"/>
<rect x="221" y="210" width="1" height="1" fill="#e872e8"/>
<rect x="222" y="210" width="1" height="1" fill="#e872e8"/>
<rect x="228" y="210" width="3" height="1" fill="#e872e8"/>
<rect x="232" y="210" width="2" height="1" fill="#e872e8"/>
<rect x="236" y="210" width="3" height="1" fill="#555555"/>
<rect x="239" y="210" width="3" height="1" fill="#555555"/>
<rect x="243" y="210" width="1" height="1" fill="#555555"/>
<rect x="244" y="210" width="2" height="1" fill="#555555"/>
<rect x="250" y="210" width="1" height="1" fill="#e872e8"/>
<rect x="252" y="210" width="2" height="1" fill="#e872e8"/>
<rect x="254" y="210" width="1" height="1" fill="#555555"/>
<rect x="257" y="210" width="2" height="1" fill="#e872e8"/>
<rect x="259" y="210" width="2" height="1" fill="#e872e8"/>
<rect x="262" y="210" width="3" height="1" fill="#e872e8"/>
<rect x="265" y="210" width="3" height="1" fill="#e872e8"/>
<rect x="269" y="210" width="3" height="1" fill="#e872e8"/>
<rect x="272" y="210" width="1" height="1" fill="#e872e8"/>
<rect x="276" y="210" width="3" height="1" fill="#e872e8"/>
<rect x="279" y="210" width="2" height="1" fill="#e872e8"/>
<rect x="283" y="210" width="3" height="1" fill="#555555"/>
<rect x="286" y="210" width="3" height="1" fill="#e872e8"/>
<rect x="291" y="210" width="3" height="1" fill="#e872e8"/>
<rect x="297" y="210" width="1" height="1" fill="#e872e8"/>
<rect x="298" y="210" width="1" height="1" fill="#e872e8"/>
<rect x="299" y="210" width="3" height="1" fill="#e872e8"/>
<rect x="302" y="210" width="2" height="1" fill="#e872e8"/>
<rect x="304" y="210" width="1" height="1" fill="#e872e8"/>
<rect x="310" y="210" width="2" height="1" fill="#e872e8"/>
<rect x="312" y="210" width="2" height="1" fill="#e872e8"/>
<rect x="314" y="210" width="1" height="1" fill="#e872e8"/>
<rect x="315" y="210" width="2" height="1" fill="#e872e8"/>
<rect x="319" y="210" width="2" height="1" fill="#555555"/>
<rect x="321" y="210" width="2" height="1" fill="#555555"/>
<rect x="323" y="210" width="3" height="1" fill="#555555"/>
<rect x="326" y="210" width="2" height="1" fill="#555555"/>
<rect x="329" y="210" width="1" height="1" fill="#e872e8"/>
<rect x="330" y="210" width="1" height="1" fill="#e872e8"/>
<rect x="333" y="210" width="2" height="1" fill="#555555"/>
<rect x="338" y="210" width="1" height="1" fill="#555555"/>
<rect x="350" y="210" width="1" height="1" fill="#e872e8"/>
<rect x="355" y="210" width="2" height="1" fill="#555555"/>
<rect x="357" y="210" width="2" height="1" fill="#555555"/>
<rect x="359" y="210" width="1" height="1" fill="#e872e8"/>
<rect x="363" y="210" width="3" height="1" fill="#555555"/>
<rect x="366" y="210" width="1" height="1" fill="#e872e8"/>
<rect x="367" y="210" width="2" height="1" fill="#e872e8"/>
<rect x="371" y="210" width="3" height="1" fill="#e872e8"/>
<rect x="375" y="210" width="3" height="1" fill="#e872e8"/>
<rect x="378" y="210" width="3" height="1" fill="#e872e8"/>
<rect x="381" y="210" width="1" height="1" fill="#e872e8"/>
<rect x="383" y="210" width="1" height="1" fill="#e872e8"/>
<rect x="386" y="210" width="3" height="1" fill="#e872e8"/>
<rect x="389" y="210" width="1" height="1" fill="#e872e8"/>
<rect x="393" y="210" width="3" height="1" fill="#555555"/>
<rect x="396" y="210" width="1" height="1" fill="#e872e8"/>
<rect x="397" y="210" width="2" height="1" fill="#e872e8"/>
<rect x="402" y="210" width="1" height="1" fill="#e872e8"/>
<rect x="403" y="210" width="2" height="1" fill="#e872e8"/>
<rect x="407" y="210" width="3" height="1" fill="#555555"/>
<rect x="410" y="210" width="1" height="1" fill="#e872e8"/>
<rect x="415" y="210" width="1" height="1" fill="#555555"/>
<rect x="416" y="210" width="2" height="1" fill="#e872e8"/>
<rect x="421" y="210" width="2" height="1" fill="#555555"/>
<rect x="424" y="210" width="2" height="1" fill="#e872e8"/>
<rect x="428" y="210" width="3" height="1" fill="#555555"/>
<rect x="431" y="210" width="3" height="1" fill="#e872e8"/>
<rect x="434" y="210" width="1" height="1" fill="#e872e8"/>
<rect x="435" y="210" width="3" height="1" fill="#e872e8"/>
<rect x="438" y="210" width="3" height="1" fill="#e872e8"/>
<rect x="441" y="210" width="2" height="1" fill="#555555"/>
<rect x="445" y="210" width="2" height="1" fill="#e872e8"/>
<rect x="447" y="210" width="1" height="1" fill="#e872e8"/>
<rect x="456" y="210" width="2" height="1" fill="#e872e8"/>
<rect x="461" y="210" width="3" height="1" fill="#555555"/>
<rect x="466" y="210" width="1" height="1" fill="#555555"/>
<rect x="471" y="210" width="2" height="1" fill="#e872e8"/>
<rect x="473" y="210" width="2" height="1" fill="#555555"/>
<rect x="475" y="210" width="3" height="1" fill="#e872e8"/>
<rect x="482" y="210" width="3" height="1" fill="#555555"/>
<rect x="491" y="210" width="2" height="1" fill="#e872e8"/>
<rect x="495" y="210" width="2" height="1" fill="#e872e8"/>
<rect x="497" y="210" width="2" height="1" fill="#e872e8"/>
<rect x="499" y="210" width="2" height="1" fill="#e872e8"/>
<rect x="502" y="210" width="1" height="1" fill="#e872e8"/>
<rect x="503" y="210" width="2" height="1" fill="#e872e8"/>
<rect x="505" y="210" width="2" height="1" fill="#e872e8"/>
<rect x="507" y="210" width="2" height="1" fill="#555555"/>
<rect x="511" y="210" width="1" height="1" fill="#e872e8"/>
<rect x="516" y="210" width="3" height="1" fill="#e872e8"/>
<rect x="519" y="210" width="3" height="1" fill="#e872e8"/>
<rect x="522" y="210" width="1" height="1" fill="#e872e8"/>
<rect x="523" y="210" width="3" height="1" fill="#555555"/>
<rect x="528" y="210" width="3" height="1" fill="#555555"/>
<rect x="531" y="210" width="1" height="1" fill="#555555"/>
<rect x="532" y="210" width="2" height="1" fill="#e872e8"/>
<rect x="534" y="210" width="2" height="1" fill="#e872e8"/>
<rect x="539" y="210" width="3" height="1" fill="#e872e8"/>
<rect x="543" y="210" width="1" height="1" fill="#e872e8"/>
<rect x="545" y="210" width="2" height="1" fill="#e872e8"/>
<rect x="547" y="210" width="1" height="1" fill="#555555"/>
<rect x="548" y="210" width="2" height="1" fill="#e872e8"/>
<rect x="550" y="210" width="1" height="1" fill="#555555"/>
<rect x="554" y="210" width="3" height="1" fill="#e872e8"/>
<rect x="557" y="210" width="3" height="1" fill="#e872e8"/>
<rect x="560" y="210" width="3" height="1" fill="#e872e8"/>
<rect x="563" y="210" width="1" height="1" fill="#e872e8"/>
<rect x="564" y="210" width="1" height="1" fill="#555555"/>
<rect x="569" y="210" width="1" height="1" fill="#e872e8"/>
<rect x="570" y="210" width="3" height="1" fill="#e872e8"/>
<rect x="575" y="210" width="2" height="1" fill="#e872e8"/>
<rect x="581" y="210" width="1" height="1" fill="#e872e8"/>
<rect x="582" y="210" width="1" height="1" fill="#e872e8"/>
<rect x="585" y="210" width="2" height="1" fill="#555555"/>
<rect x="587" y="210" width="3" height="1" fill="#555555"/>
<rect x="590" y="210" width="1" height="1" fill="#555555"/>
<rect x="591" y="210" width="3" height="1" fill="#e872e8"/>
<rect x="601" y="210" width="2" height="1" fill="#e872e8"/>
<rect x="605" y="210" width="3" height="1" fill="#e872e8"/>
<rect x="609" y="210" width="1" height="1" fill="#e872e8"/>
<rect x="610" y="210" width="3" height="1" fill="#e872e8"/>
<rect x="613" y="210" width="2" height="1" fill="#e872e8"/>
<rect x="619" y="210" width="1" height="1" fill="#e872e8"/>
<rect x="620" y="210" width="3" height="1" fill="#e872e8"/>
<rect x="623" y="210" width="3" height="1" fill="#e872e8"/>
<rect x="626" y="210" width="2" height="1" fill="#e872e8"/>
<rect x="628" y="210" width="2" height="1" fill="#e872e8"/>
<rect x="630" y="210" width="1" height="1" fill="#e872e8"/>
<rect x="632" y="210" width="2" height="1" fill="#e872e8"/>
<rect x="634" y="210" width="3" height="1" fill="#e872e8"/>
<rect x="637" y="210" width="2" height="1" fill="#555555"/>
<rect x="639" y="210" width="1" height="1" fill="#e872e8"/>
<rect x="640" y="210" width="3" height="1" fill="#e872e8"/>
<rect x="643" y="210" width="1" height="1" fill="#555555"/>
<rect x="644" y="210" width="2" height="1" fill="#555555"/>
<rect x="646" y="210" width="1" height="1" fill="#e872e8"/>
<rect x="647" y="210" width="2" height="1" fill="#e872e8"/>
<rect x="649" y="210" width="2" height="1" fill="#e872e8"/>
<rect x="651" y="210" width="2" height="1" fill="#555555"/>
<rect x="659" y="210" width="2" height="1" fill="#e872e8"/>
<rect x="665" y="210" width="1" height="1" fill="#e872e8"/>
<rect x="667" y="210" width="3" height="1" fill="#555555"/>
<rect x="670" y="210" width="2" height="1" fill="#e872e8"/>
<rect x="672" y="210" width="1" height="1" fill="#555555"/>
<rect x="674" y="210" width="1" height="1" fill="#e872e8"/>
<rect x="675" y="210" width="3" height="1" fill="#e872e8"/>
<rect x="680" y="210" width="2" height="1" fill="#e872e8"/>
<rect x="682" y="210" width="2" height="1" fill="#555555"/>
<polygon points="110.5,210.8 110.5,210.5 111.8,208.8 112.5,204.8 113.1,199.8 113.5,198.2 114.0,200.8 114.6,205.8 115.5,208.8 116.5,210.5 116.5,210.8" fill="#000"/>
<rect x="113.10" y="197.90" width="0.80" height="0.90" fill="#e0106a"/>
<rect x="113.10" y="198.80" width="0.80" height="0.70" fill="#2020a0"/>
<polygon points="355.7,210.8 355.7,210.5 356.8,209.3 357.8,207.8 358.6,205.8 359.1,202.3 359.6,205.8 360.5,204.8 361.1,202.3 361.7,205.8 362.8,208.3 364.2,210.5 364.2,210.8" fill="#000"/>
<polygon points="423.2,210.8 423.2,210.5 424.5,207.8 425.5,203.8 426.5,199.8 427.5,198.0 431.0,198.0 431.6,210.5 431.6,210.8" fill="#000"/>
<polygon points="432.2,210.8 432.2,210.5 432.6,198.0 436.5,198.0 437.2,204.8 437.8,210.5 437.8,210.8" fill="#000"/>
<rect x="427.50" y="197.70" width="3.50" height="0.90" fill="#e0106a"/>
<rect x="427.50" y="198.60" width="3.50" height="0.70" fill="#2020a0"/>
<rect x="432.60" y="197.70" width="3.90" height="0.90" fill="#e0106a"/>
<rect x="432.60" y="198.60" width="3.90" height="0.70" fill="#2020a0"/>
<polygon points="210.1,210.8 211.2,210.3 212.2,210.8" fill="#000"/>
<polygon points="308.6,210.8 310.1,209.8 311.6,210.8" fill="#000"/>
<polygon points="236.9,210.8 238.2,209.7 239.5,210.8" fill="#000"/>
<polygon points="140.1,210.8 141.2,209.9 142.3,210.8" fill="#000"/>
<polygon points="193.7,210.8 194.4,210.1 195.1,210.8" fill="#000"/>
<polygon points="297.6,210.8 298.4,209.8 299.1,210.8" fill="#000"/>
<polygon points="327.9,210.8 328.9,210.3 329.8,210.8" fill="#000"/>
<polygon points="263.6,210.8 265.0,210.1 266.4,210.8" fill="#000"/>
<polygon points="344.1,210.8 345.3,209.8 346.5,210.8" fill="#000"/>
<polygon points="162.5,210.8 163.2,209.9 163.9,210.8" fill="#000"/>
<polygon points="333.5,210.8 334.2,210.3 335.0,210.8" fill="#000"/>
<polygon points="188.2,210.8 189.4,210.2 190.5,210.8" fill="#000"/>
<polygon points="200.6,210.8 201.4,209.8 202.3,210.8" fill="#000"/>
<polygon points="155.4,210.8 156.4,210.0 157.3,210.8" fill="#000"/>
<polygon points="664.6,210.8 666.2,209.9 667.7,210.8" fill="#000"/>
<polygon points="643.5,210.8 644.5,209.9 645.5,210.8" fill="#000"/>
<polygon points="477.9,210.8 478.6,210.1 479.3,210.8" fill="#000"/>
<polygon points="666.8,210.8 667.6,210.2 668.5,210.8" fill="#000"/>
<polygon points="569.0,210.8 570.2,209.8 571.3,210.8" fill="#000"/>
<polygon points="463.6,210.8 464.5,210.0 465.3,210.8" fill="#000"/>
<polygon points="570.4,210.8 571.6,210.1 572.7,210.8" fill="#000"/>
<polygon points="494.8,210.8 495.6,210.0 496.3,210.8" fill="#000"/>
<polygon points="647.5,210.8 648.4,210.0 649.3,210.8" fill="#000"/>
<polygon points="475.9,210.8 477.2,209.8 478.5,210.8" fill="#000"/>
<rect x="108" y="232" width="2" height="1" fill="#555555"/>
<rect x="110" y="232" width="3" height="1" fill="#555555"/>
<rect x="115" y="232" width="3" height="1" fill="#e872e8"/>
<rect x="118" y="232" width="3" height="1" fill="#555555"/>
<rect x="121" y="232" width="3" height="1" fill="#e872e8"/>
<rect x="124" y="232" width="2" height="1" fill="#e872e8"/>
<rect x="126" y="232" width="2" height="1" fill="#e872e8"/>
<rect x="128" y="232" width="2" height="1" fill="#555555"/>
<rect x="130" y="232" width="2" height="1" fill="#e872e8"/>
<rect x="132" y="232" width="2" height="1" fill="#e872e8"/>
<rect x="134" y="232" width="2" height="1" fill="#e872e8"/>
<rect x="136" y="232" width="2" height="1" fill="#555555"/>
<rect x="138" y="232" width="2" height="1" fill="#e872e8"/>
<rect x="140" y="232" width="1" height="1" fill="#e872e8"/>
<rect x="141" y="232" width="3" height="1" fill="#e872e8"/>
<rect x="144" y="232" width="1" height="1" fill="#e872e8"/>
<rect x="145" y="232" width="1" height="1" fill="#e872e8"/>
<rect x="146" y="232" width="1" height="1" fill="#e872e8"/>
<rect x="148" y="232" width="3" height="1" fill="#e872e8"/>
<rect x="154" y="232" width="1" height="1" fill="#e872e8"/>
<rect x="155" y="232" width="2" height="1" fill="#e872e8"/>
<rect x="161" y="232" width="3" height="1" fill="#e872e8"/>
<rect x="165" y="232" width="3" height="1" fill="#e872e8"/>
<rect x="168" y="232" width="2" height="1" fill="#555555"/>
<rect x="170" y="232" width="1" height="1" fill="#e872e8"/>
<rect x="171" y="232" width="2" height="1" fill="#e872e8"/>
<rect x="173" y="232" width="2" height="1" fill="#e872e8"/>
<rect x="175" y="232" width="3" height="1" fill="#e872e8"/>
<rect x="178" y="232" width="2" height="1" fill="#e872e8"/>
<rect x="180" y="232" width="2" height="1" fill="#e872e8"/>
<rect x="183" y="232" width="3" height="1" fill="#e872e8"/>
<rect x="187" y="232" width="1" height="1" fill="#e872e8"/>
<rect x="188" y="232" width="1" height="1" fill="#e872e8"/>
<rect x="189" y="232" width="2" height="1" fill="#e872e8"/>
<rect x="191" y="232" width="1" height="1" fill="#e872e8"/>
<rect x="194" y="232" width="3" height="1" fill="#e872e8"/>
<rect x="197" y="232" width="1" height="1" fill="#e872e8"/>
<rect x="198" y="232" width="2" height="1" fill="#e872e8"/>
<rect x="202" y="232" width="3" height="1" fill="#e872e8"/>
<rect x="205" y="232" width="2" height="1" fill="#e872e8"/>
<rect x="207" y="232" width="1" height="1" fill="#e872e8"/>
<rect x="208" y="232" width="3" height="1" fill="#e872e8"/>
<rect x="211" y="232" width="2" height="1" fill="#e872e8"/>
<rect x="213" y="232" width="3" height="1" fill="#e872e8"/>
<rect x="216" y="232" width="2" height="1" fill="#e872e8"/>
<rect x="222" y="232" width="2" height="1" fill="#e872e8"/>
<rect x="224" y="232" width="3" height="1" fill="#e872e8"/>
<rect x="227" y="232" width="1" height="1" fill="#e872e8"/>
<rect x="230" y="232" width="1" height="1" fill="#e872e8"/>
<rect x="231" y="232" width="3" height="1" fill="#e872e8"/>
<rect x="234" y="232" width="3" height="1" fill="#e872e8"/>
<rect x="237" y="232" width="3" height="1" fill="#e872e8"/>
<rect x="241" y="232" width="2" height="1" fill="#e872e8"/>
<rect x="244" y="232" width="1" height="1" fill="#e872e8"/>
<rect x="245" y="232" width="2" height="1" fill="#e872e8"/>
<rect x="247" y="232" width="2" height="1" fill="#e872e8"/>
<rect x="249" y="232" width="1" height="1" fill="#e872e8"/>
<rect x="250" y="232" width="1" height="1" fill="#e872e8"/>
<rect x="252" y="232" width="2" height="1" fill="#e872e8"/>
<rect x="256" y="232" width="1" height="1" fill="#e872e8"/>
<rect x="257" y="232" width="1" height="1" fill="#555555"/>
<rect x="261" y="232" width="2" height="1" fill="#e872e8"/>
<rect x="263" y="232" width="1" height="1" fill="#e872e8"/>
<rect x="264" y="232" width="2" height="1" fill="#e872e8"/>
<rect x="269" y="232" width="1" height="1" fill="#e872e8"/>
<rect x="272" y="232" width="2" height="1" fill="#e872e8"/>
<rect x="274" y="232" width="1" height="1" fill="#e872e8"/>
<rect x="275" y="232" width="2" height="1" fill="#e872e8"/>
<rect x="277" y="232" width="1" height="1" fill="#e872e8"/>
<rect x="278" y="232" width="1" height="1" fill="#e872e8"/>
<rect x="279" y="232" width="2" height="1" fill="#e872e8"/>
<rect x="281" y="232" width="1" height="1" fill="#e872e8"/>
<rect x="282" y="232" width="2" height="1" fill="#e872e8"/>
<rect x="284" y="232" width="3" height="1" fill="#e872e8"/>
<rect x="288" y="232" width="3" height="1" fill="#e872e8"/>
<rect x="291" y="232" width="2" height="1" fill="#e872e8"/>
<rect x="293" y="232" width="1" height="1" fill="#e872e8"/>
<rect x="294" y="232" width="2" height="1" fill="#e872e8"/>
<rect x="297" y="232" width="3" height="1" fill="#e872e8"/>
<rect x="301" y="232" width="2" height="1" fill="#e872e8"/>
<rect x="303" y="232" width="2" height="1" fill="#e872e8"/>
<rect x="307" y="232" width="3" height="1" fill="#e872e8"/>
<rect x="310" y="232" width="3" height="1" fill="#e872e8"/>
<rect x="313" y="232" width="1" height="1" fill="#e872e8"/>
<rect x="314" y="232" width="1" height="1" fill="#e872e8"/>
<rect x="315" y="232" width="2" height="1" fill="#e872e8"/>
<rect x="317" y="232" width="1" height="1" fill="#e872e8"/>
<rect x="318" y="232" width="3" height="1" fill="#e872e8"/>
<rect x="323" y="232" width="3" height="1" fill="#e872e8"/>
<rect x="326" y="232" width="1" height="1" fill="#e872e8"/>
<rect x="327" y="232" width="1" height="1" fill="#e872e8"/>
<rect x="328" y="232" width="2" height="1" fill="#e872e8"/>
<rect x="330" y="232" width="3" height="1" fill="#e872e8"/>
<rect x="335" y="232" width="2" height="1" fill="#e872e8"/>
<rect x="339" y="232" width="2" height="1" fill="#555555"/>
<rect x="343" y="232" width="1" height="1" fill="#e872e8"/>
<rect x="346" y="232" width="1" height="1" fill="#e872e8"/>
<rect x="349" y="232" width="1" height="1" fill="#e872e8"/>
<rect x="350" y="232" width="2" height="1" fill="#e872e8"/>
<rect x="352" y="232" width="2" height="1" fill="#e872e8"/>
<rect x="354" y="232" width="2" height="1" fill="#e872e8"/>
<rect x="358" y="232" width="2" height="1" fill="#e872e8"/>
<rect x="360" y="232" width="1" height="1" fill="#e872e8"/>
<rect x="361" y="232" width="3" height="1" fill="#e872e8"/>
<rect x="364" y="232" width="2" height="1" fill="#e872e8"/>
<rect x="367" y="232" width="3" height="1" fill="#555555"/>
<rect x="370" y="232" width="3" height="1" fill="#e872e8"/>
<rect x="373" y="232" width="1" height="1" fill="#e872e8"/>
<rect x="374" y="232" width="2" height="1" fill="#e872e8"/>
<rect x="376" y="232" width="1" height="1" fill="#e872e8"/>
<rect x="377" y="232" width="1" height="1" fill="#e872e8"/>
<rect x="378" y="232" width="2" height="1" fill="#555555"/>
<rect x="380" y="232" width="3" height="1" fill="#e872e8"/>
<rect x="383" y="232" width="3" height="1" fill="#e872e8"/>
<rect x="386" y="232" width="2" height="1" fill="#e872e8"/>
<rect x="388" y="232" width="1" height="1" fill="#e872e8"/>
<rect x="389" y="232" width="3" height="1" fill="#e872e8"/>
<rect x="393" y="232" width="1" height="1" fill="#e872e8"/>
<rect x="394" y="232" width="1" height="1" fill="#e872e8"/>
<rect x="396" y="232" width="1" height="1" fill="#e872e8"/>
<rect x="397" y="232" width="1" height="1" fill="#e872e8"/>
<rect x="398" y="232" width="1" height="1" fill="#e872e8"/>
<rect x="401" y="232" width="2" height="1" fill="#e872e8"/>
<rect x="403" y="232" width="2" height="1" fill="#555555"/>
<rect x="408" y="232" width="3" height="1" fill="#e872e8"/>
<rect x="412" y="232" width="1" height="1" fill="#e872e8"/>
<rect x="413" y="232" width="1" height="1" fill="#e872e8"/>
<rect x="415" y="232" width="2" height="1" fill="#e872e8"/>
<rect x="417" y="232" width="1" height="1" fill="#e872e8"/>
<rect x="418" y="232" width="2" height="1" fill="#e872e8"/>
<rect x="420" y="232" width="1" height="1" fill="#e872e8"/>
<rect x="424" y="232" width="2" height="1" fill="#555555"/>
<rect x="426" y="232" width="1" height="1" fill="#555555"/>
<rect x="427" y="232" width="2" height="1" fill="#e872e8"/>
<rect x="429" y="232" width="2" height="1" fill="#555555"/>
<rect x="431" y="232" width="1" height="1" fill="#e872e8"/>
<rect x="432" y="232" width="1" height="1" fill="#e872e8"/>
<rect x="433" y="232" width="1" height="1" fill="#e872e8"/>
<rect x="434" y="232" width="1" height="1" fill="#e872e8"/>
<rect x="435" y="232" width="3" height="1" fill="#e872e8"/>
<rect x="438" y="232" width="2" height="1" fill="#e872e8"/>
<rect x="440" y="232" width="3" height="1" fill="#e872e8"/>
<rect x="443" y="232" width="1" height="1" fill="#e872e8"/>
<rect x="446" y="232" width="3" height="1" fill="#e872e8"/>
<rect x="449" y="232" width="2" height="1" fill="#e872e8"/>
<rect x="451" y="232" width="1" height="1" fill="#e872e8"/>
<rect x="452" y="232" width="3" height="1" fill="#555555"/>
<rect x="455" y="232" width="3" height="1" fill="#e872e8"/>
<rect x="458" y="232" width="2" height="1" fill="#e872e8"/>
<rect x="460" y="232" width="3" height="1" fill="#e872e8"/>
<rect x="465" y="232" width="2" height="1" fill="#e872e8"/>
<rect x="467" y="232" width="2" height="1" fill="#e872e8"/>
<rect x="469" y="232" width="1" height="1" fill="#e872e8"/>
<rect x="472" y="232" width="2" height="1" fill="#e872e8"/>
<rect x="474" y="232" width="3" height="1" fill="#e872e8"/>
<rect x="477" y="232" width="1" height="1" fill="#e872e8"/>
<rect x="478" y="232" width="3" height="1" fill="#e872e8"/>
<rect x="481" y="232" width="1" height="1" fill="#e872e8"/>
<rect x="482" y="232" width="2" height="1" fill="#e872e8"/>
<rect x="486" y="232" width="1" height="1" fill="#e872e8"/>
<rect x="487" y="232" width="2" height="1" fill="#e872e8"/>
<rect x="489" y="232" width="1" height="1" fill="#555555"/>
<rect x="492" y="232" width="1" height="1" fill="#e872e8"/>
<rect x="493" y="232" width="3" height="1" fill="#e872e8"/>
<rect x="496" y="232" width="2" height="1" fill="#e872e8"/>
<rect x="499" y="232" width="1" height="1" fill="#e872e8"/>
<rect x="502" y="232" width="2" height="1" fill="#e872e8"/>
<rect x="504" y="232" width="1" height="1" fill="#e872e8"/>
<rect x="505" y="232" width="1" height="1" fill="#e872e8"/>
<rect x="506" y="232" width="2" height="1" fill="#e872e8"/>
<rect x="508" y="232" width="3" height="1" fill="#e872e8"/>
<rect x="511" y="232" width="2" height="1" fill="#e872e8"/>
<rect x="513" y="232" width="1" height="1" fill="#555555"/>
<rect x="515" y="232" width="2" height="1" fill="#e872e8"/>
<rect x="518" y="232" width="3" height="1" fill="#e872e8"/>
<rect x="522" y="232" width="3" height="1" fill="#555555"/>
<rect x="525" y="232" width="1" height="1" fill="#e872e8"/>
<rect x="526" y="232" width="1" height="1" fill="#e872e8"/>
<rect x="530" y="232" width="1" height="1" fill="#e872e8"/>
<rect x="531" y="232" width="2" height="1" fill="#e872e8"/>
<rect x="533" y="232" width="1" height="1" fill="#e872e8"/>
<rect x="534" y="232" width="1" height="1" fill="#555555"/>
<rect x="535" y="232" width="3" height="1" fill="#e872e8"/>
<rect x="540" y="232" width="2" height="1" fill="#e872e8"/>
<rect x="544" y="232" width="3" height="1" fill="#e872e8"/>
<rect x="547" y="232" width="1" height="1" fill="#e872e8"/>
<rect x="548" y="232" width="1" height="1" fill="#e872e8"/>
<rect x="549" y="232" width="2" height="1" fill="#e872e8"/>
<rect x="551" y="232" width="2" height="1" fill="#e872e8"/>
<rect x="553" y="232" width="1" height="1" fill="#e872e8"/>
<rect x="554" y="232" width="2" height="1" fill="#e872e8"/>
<rect x="556" y="232" width="2" height="1" fill="#e872e8"/>
<rect x="558" y="232" width="2" height="1" fill="#e872e8"/>
<rect x="564" y="232" width="1" height="1" fill="#e872e8"/>
<rect x="565" y="232" width="1" height="1" fill="#e872e8"/>
<rect x="566" y="232" width="3" height="1" fill="#e872e8"/>
<rect x="569" y="232" width="1" height="1" fill="#e872e8"/>
<rect x="573" y="232" width="3" height="1" fill="#e872e8"/>
<rect x="576" y="232" width="2" height="1" fill="#555555"/>
<rect x="578" y="232" width="3" height="1" fill="#e872e8"/>
<rect x="581" y="232" width="1" height="1" fill="#e872e8"/>
<rect x="582" y="232" width="2" height="1" fill="#e872e8"/>
<rect x="584" y="232" width="3" height="1" fill="#e872e8"/>
<rect x="587" y="232" width="2" height="1" fill="#e872e8"/>
<rect x="590" y="232" width="3" height="1" fill="#e872e8"/>
<rect x="595" y="232" width="3" height="1" fill="#e872e8"/>
<rect x="600" y="232" width="2" height="1" fill="#e872e8"/>
<rect x="602" y="232" width="1" height="1" fill="#e872e8"/>
<rect x="603" y="232" width="1" height="1" fill="#e872e8"/>
<rect x="605" y="232" width="3" height="1" fill="#e872e8"/>
<rect x="608" y="232" width="2" height="1" fill="#e872e8"/>
<rect x="610" y="232" width="1" height="1" fill="#e872e8"/>
<rect x="611" y="232" width="2" height="1" fill="#e872e8"/>
<rect x="613" y="232" width="2" height="1" fill="#555555"/>
<rect x="615" y="232" width="1" height="1" fill="#e872e8"/>
<rect x="616" y="232" width="1" height="1" fill="#e872e8"/>
<rect x="617" y="232" width="3" height="1" fill="#e872e8"/>
<rect x="622" y="232" width="1" height="1" fill="#e872e8"/>
<rect x="624" y="232" width="3" height="1" fill="#e872e8"/>
<rect x="627" y="232" width="2" height="1" fill="#e872e8"/>
<rect x="630" y="232" width="3" height="1" fill="#e872e8"/>
<rect x="637" y="232" width="1" height="1" fill="#e872e8"/>
<rect x="641" y="232" width="2" height="1" fill="#e872e8"/>
<rect x="643" y="232" width="1" height="1" fill="#e872e8"/>
<rect x="645" y="232" width="1" height="1" fill="#e872e8"/>
<rect x="646" y="232" width="1" height="1" fill="#e872e8"/>
<rect x="647" y="232" width="1" height="1" fill="#e872e8"/>
<rect x="649" y="232" width="2" height="1" fill="#555555"/>
<rect x="651" y="232" width="3" height="1" fill="#e872e8"/>
<rect x="654" y="232" width="1" height="1" fill="#e872e8"/>
<rect x="655" y="232" width="1" height="1" fill="#e872e8"/>
<rect x="656" y="232" width="3" height="1" fill="#e872e8"/>
<rect x="659" y="232" width="1" height="1" fill="#e872e8"/>
<rect x="660" y="232" width="3" height="1" fill="#e872e8"/>
<rect x="663" y="232" width="3" height="1" fill="#e872e8"/>
<rect x="666" y="232" width="1" height="1" fill="#e872e8"/>
<rect x="667" y="232" width="3" height="1" fill="#e872e8"/>
<rect x="670" y="232" width="3" height="1" fill="#e872e8"/>
<rect x="673" y="232" width="3" height="1" fill="#e872e8"/>
<rect x="678" y="232" width="1" height="1" fill="#555555"/>
<rect x="681" y="232" width="2" height="1" fill="#e872e8"/>
<rect x="683" y="232" width="1" height="1" fill="#e872e8"/>
<polygon points="110.0,232.5 110.0,232.2 111.0,231.0 112.0,230.0 112.8,230.7 113.5,228.2 114.2,230.5 115.5,231.0 117.0,232.2 117.0,232.5" fill="#000"/>
<rect x="108" y="231.4" width="14" height="1.2" fill="#111"/>
<polygon points="354.2,232.5 354.2,232.2 355.5,231.0 356.5,229.0 357.3,231.0 358.2,227.3 359.0,230.5 360.0,228.0 361.0,230.5 362.2,228.5 363.2,231.0 364.5,230.7 365.5,231.7 367.2,232.2 367.2,232.5" fill="#000"/>
<polygon points="428.2,232.5 428.2,232.2 428.8,226.5 429.5,221.5 430.2,221.0 431.2,223.5 431.6,232.2 431.6,232.5" fill="#000"/>
<polygon points="432.8,232.5 432.8,232.2 433.3,225.5 434.0,223.5 435.2,223.5 435.9,227.5 436.3,232.2 436.3,232.5" fill="#000"/>
<polygon points="217.2,232.5 218.5,231.7 219.7,232.5" fill="#000"/>
<polygon points="318.0,232.5 318.9,231.9 319.9,232.5" fill="#000"/>
<polygon points="258.7,232.5 259.7,231.5 260.8,232.5" fill="#000"/>
<polygon points="338.8,232.5 340.0,231.8 341.1,232.5" fill="#000"/>
<polygon points="245.1,232.5 246.5,231.5 247.8,232.5" fill="#000"/>
<polygon points="184.9,232.5 185.7,231.8 186.6,232.5" fill="#000"/>
<polygon points="232.8,232.5 233.7,231.7 234.7,232.5" fill="#000"/>
<polygon points="158.3,232.5 159.0,231.9 159.6,232.5" fill="#000"/>
<polygon points="479.0,232.5 480.6,231.6 482.2,232.5" fill="#000"/>
<polygon points="620.1,232.5 621.1,231.7 622.0,232.5" fill="#000"/>
<polygon points="559.3,232.5 560.8,231.7 562.2,232.5" fill="#000"/>
<polygon points="541.0,232.5 541.8,231.8 542.6,232.5" fill="#000"/>
<polygon points="599.8,232.5 601.2,231.9 602.5,232.5" fill="#000"/>
<polygon points="472.3,232.5 473.4,231.7 474.4,232.5" fill="#000"/>
<polygon points="589.1,232.5 590.2,231.9 591.3,232.5" fill="#000"/>
<polygon points="532.7,232.5 533.4,231.9 534.0,232.5" fill="#000"/>
<rect x="110" y="254" width="1" height="1" fill="#e872e8"/>
<rect x="111" y="254" width="2" height="1" fill="#e872e8"/>
<rect x="113" y="254" width="2" height="1" fill="#e872e8"/>
<rect x="115" y="254" width="3" height="1" fill="#555555"/>
<rect x="120" y="254" width="2" height="1" fill="#e872e8"/>
<rect x="122" y="254" width="1" height="1" fill="#e872e8"/>
<rect x="123" y="254" width="2" height="1" fill="#e872e8"/>
<rect x="125" y="254" width="3" height="1" fill="#e872e8"/>
<rect x="128" y="254" width="2" height="1" fill="#555555"/>
<rect x="131" y="254" width="1" height="1" fill="#555555"/>
<rect x="134" y="254" width="2" height="1" fill="#e872e8"/>
<rect x="136" y="254" width="2" height="1" fill="#e872e8"/>
<rect x="138" y="254" width="1" height="1" fill="#e872e8"/>
<rect x="143" y="254" width="3" height="1" fill="#555555"/>
<rect x="146" y="254" width="1" height="1" fill="#555555"/>
<rect x="147" y="254" width="3" height="1" fill="#e872e8"/>
<rect x="150" y="254" width="3" height="1" fill="#e872e8"/>
<rect x="156" y="254" width="3" height="1" fill="#555555"/>
<rect x="161" y="254" width="1" height="1" fill="#e872e8"/>
<rect x="164" y="254" width="2" height="1" fill="#e872e8"/>
<rect x="166" y="254" width="2" height="1" fill="#e872e8"/>
<rect x="177" y="254" width="3" height="1" fill="#555555"/>
<rect x="183" y="254" width="1" height="1" fill="#555555"/>
<rect x="184" y="254" width="2" height="1" fill="#e872e8"/>
<rect x="189" y="254" width="1" height="1" fill="#e872e8"/>
<rect x="191" y="254" width="1" height="1" fill="#e872e8"/>
<rect x="192" y="254" width="1" height="1" fill="#e872e8"/>
<rect x="193" y="254" width="1" height="1" fill="#e872e8"/>
<rect x="196" y="254" width="2" height="1" fill="#e872e8"/>
<rect x="199" y="254" width="1" height="1" fill="#555555"/>
<rect x="203" y="254" width="2" height="1" fill="#555555"/>
<rect x="215" y="254" width="1" height="1" fill="#e872e8"/>
<rect x="216" y="254" width="3" height="1" fill="#555555"/>
<rect x="219" y="254" width="2" height="1" fill="#e872e8"/>
<rect x="223" y="254" width="2" height="1" fill="#555555"/>
<rect x="232" y="254" width="1" height="1" fill="#555555"/>
<rect x="237" y="254" width="1" height="1" fill="#e872e8"/>
<rect x="239" y="254" width="2" height="1" fill="#555555"/>
<rect x="241" y="254" width="1" height="1" fill="#555555"/>
<rect x="244" y="254" width="1" height="1" fill="#e872e8"/>
<rect x="245" y="254" width="3" height="1" fill="#e872e8"/>
<rect x="252" y="254" width="3" height="1" fill="#e872e8"/>
<rect x="255" y="254" width="1" height="1" fill="#e872e8"/>
<rect x="256" y="254" width="1" height="1" fill="#e872e8"/>
<rect x="257" y="254" width="2" height="1" fill="#555555"/>
<rect x="259" y="254" width="2" height="1" fill="#e872e8"/>
<rect x="261" y="254" width="3" height="1" fill="#555555"/>
<rect x="269" y="254" width="1" height="1" fill="#e872e8"/>
<rect x="270" y="254" width="1" height="1" fill="#e872e8"/>
<rect x="271" y="254" width="2" height="1" fill="#e872e8"/>
<rect x="276" y="254" width="3" height="1" fill="#e872e8"/>
<rect x="279" y="254" width="1" height="1" fill="#e872e8"/>
<rect x="280" y="254" width="1" height="1" fill="#e872e8"/>
<rect x="281" y="254" width="3" height="1" fill="#e872e8"/>
<rect x="291" y="254" width="3" height="1" fill="#e872e8"/>
<rect x="294" y="254" width="3" height="1" fill="#e872e8"/>
<rect x="298" y="254" width="1" height="1" fill="#e872e8"/>
<rect x="299" y="254" width="1" height="1" fill="#e872e8"/>
<rect x="302" y="254" width="3" height="1" fill="#e872e8"/>
<rect x="305" y="254" width="1" height="1" fill="#e872e8"/>
<rect x="306" y="254" width="2" height="1" fill="#e872e8"/>
<rect x="311" y="254" width="3" height="1" fill="#e872e8"/>
<rect x="316" y="254" width="2" height="1" fill="#e872e8"/>
<rect x="318" y="254" width="1" height="1" fill="#e872e8"/>
<rect x="321" y="254" width="1" height="1" fill="#e872e8"/>
<rect x="322" y="254" width="3" height="1" fill="#e872e8"/>
<rect x="327" y="254" width="2" height="1" fill="#e872e8"/>
<rect x="332" y="254" width="3" height="1" fill="#e872e8"/>
<rect x="335" y="254" width="2" height="1" fill="#e872e8"/>
<rect x="337" y="254" width="2" height="1" fill="#e872e8"/>
<rect x="342" y="254" width="3" height="1" fill="#555555"/>
<rect x="345" y="254" width="1" height="1" fill="#555555"/>
<rect x="346" y="254" width="2" height="1" fill="#e872e8"/>
<rect x="352" y="254" width="3" height="1" fill="#555555"/>
<rect x="355" y="254" width="2" height="1" fill="#e872e8"/>
<rect x="357" y="254" width="1" height="1" fill="#555555"/>
<rect x="364" y="254" width="2" height="1" fill="#555555"/>
<rect x="366" y="254" width="1" height="1" fill="#e872e8"/>
<rect x="369" y="254" width="3" height="1" fill="#555555"/>
<rect x="372" y="254" width="2" height="1" fill="#555555"/>
<rect x="374" y="254" width="3" height="1" fill="#e872e8"/>
<rect x="377" y="254" width="1" height="1" fill="#555555"/>
<rect x="384" y="254" width="2" height="1" fill="#e872e8"/>
<rect x="389" y="254" width="2" height="1" fill="#e872e8"/>
<rect x="391" y="254" width="2" height="1" fill="#555555"/>
<rect x="400" y="254" width="2" height="1" fill="#e872e8"/>
<rect x="405" y="254" width="1" height="1" fill="#555555"/>
<rect x="411" y="254" width="1" height="1" fill="#555555"/>
<rect x="412" y="254" width="1" height="1" fill="#e872e8"/>
<rect x="414" y="254" width="2" height="1" fill="#e872e8"/>
<rect x="416" y="254" width="2" height="1" fill="#e872e8"/>
<rect x="420" y="254" width="2" height="1" fill="#e872e8"/>
<rect x="422" y="254" width="3" height="1" fill="#e872e8"/>
<rect x="427" y="254" width="3" height="1" fill="#e872e8"/>
<rect x="430" y="254" width="3" height="1" fill="#e872e8"/>
<rect x="433" y="254" width="2" height="1" fill="#e872e8"/>
<rect x="435" y="254" width="2" height="1" fill="#e872e8"/>
<rect x="437" y="254" width="2" height="1" fill="#e872e8"/>
<rect x="439" y="254" width="1" height="1" fill="#e872e8"/>
<rect x="440" y="254" width="3" height="1" fill="#e872e8"/>
<rect x="447" y="254" width="1" height="1" fill="#555555"/>
<rect x="448" y="254" width="3" height="1" fill="#e872e8"/>
<rect x="451" y="254" width="1" height="1" fill="#555555"/>
<rect x="452" y="254" width="3" height="1" fill="#e872e8"/>
<rect x="455" y="254" width="1" height="1" fill="#555555"/>
<rect x="456" y="254" width="2" height="1" fill="#e872e8"/>
<rect x="460" y="254" width="2" height="1" fill="#555555"/>
<rect x="463" y="254" width="3" height="1" fill="#555555"/>
<rect x="470" y="254" width="2" height="1" fill="#555555"/>
<rect x="472" y="254" width="2" height="1" fill="#e872e8"/>
<rect x="480" y="254" width="2" height="1" fill="#e872e8"/>
<rect x="482" y="254" width="3" height="1" fill="#555555"/>
<rect x="489" y="254" width="3" height="1" fill="#e872e8"/>
<rect x="492" y="254" width="3" height="1" fill="#e872e8"/>
<rect x="495" y="254" width="2" height="1" fill="#555555"/>
<rect x="497" y="254" width="1" height="1" fill="#e872e8"/>
<rect x="501" y="254" width="1" height="1" fill="#e872e8"/>
<rect x="504" y="254" width="2" height="1" fill="#e872e8"/>
<rect x="506" y="254" width="3" height="1" fill="#555555"/>
<rect x="509" y="254" width="3" height="1" fill="#e872e8"/>
<rect x="512" y="254" width="1" height="1" fill="#555555"/>
<rect x="513" y="254" width="2" height="1" fill="#e872e8"/>
<rect x="515" y="254" width="2" height="1" fill="#e872e8"/>
<rect x="517" y="254" width="3" height="1" fill="#555555"/>
<rect x="524" y="254" width="2" height="1" fill="#e872e8"/>
<rect x="527" y="254" width="3" height="1" fill="#555555"/>
<rect x="530" y="254" width="2" height="1" fill="#e872e8"/>
<rect x="533" y="254" width="2" height="1" fill="#e872e8"/>
<rect x="535" y="254" width="2" height="1" fill="#555555"/>
<rect x="537" y="254" width="3" height="1" fill="#555555"/>
<rect x="540" y="254" width="1" height="1" fill="#e872e8"/>
<rect x="541" y="254" width="2" height="1" fill="#e872e8"/>
<rect x="544" y="254" width="3" height="1" fill="#e872e8"/>
<rect x="548" y="254" width="1" height="1" fill="#e872e8"/>
<rect x="550" y="254" width="3" height="1" fill="#e872e8"/>
<rect x="563" y="254" width="1" height="1" fill="#555555"/>
<rect x="565" y="254" width="1" height="1" fill="#e872e8"/>
<rect x="568" y="254" width="2" height="1" fill="#e872e8"/>
<rect x="570" y="254" width="2" height="1" fill="#e872e8"/>
<rect x="575" y="254" width="2" height="1" fill="#e872e8"/>
<rect x="577" y="254" width="3" height="1" fill="#555555"/>
<rect x="583" y="254" width="1" height="1" fill="#e872e8"/>
<rect x="586" y="254" width="2" height="1" fill="#e872e8"/>
<rect x="590" y="254" width="2" height="1" fill="#e872e8"/>
<rect x="592" y="254" width="3" height="1" fill="#e872e8"/>
<rect x="596" y="254" width="3" height="1" fill="#e872e8"/>
<rect x="599" y="254" width="3" height="1" fill="#555555"/>
<rect x="603" y="254" width="2" height="1" fill="#e872e8"/>
<rect x="608" y="254" width="3" height="1" fill="#555555"/>
<rect x="619" y="254" width="1" height="1" fill="#555555"/>
<rect x="626" y="254" width="1" height="1" fill="#e872e8"/>
<rect x="627" y="254" width="3" height="1" fill="#e872e8"/>
<rect x="635" y="254" width="2" height="1" fill="#e872e8"/>
<rect x="637" y="254" width="1" height="1" fill="#e872e8"/>
<rect x="640" y="254" width="1" height="1" fill="#555555"/>
<rect x="641" y="254" width="1" height="1" fill="#e872e8"/>
<rect x="642" y="254" width="3" height="1" fill="#e872e8"/>
<rect x="645" y="254" width="1" height="1" fill="#e872e8"/>
<rect x="646" y="254" width="1" height="1" fill="#e872e8"/>
<rect x="647" y="254" width="1" height="1" fill="#e872e8"/>
<rect x="650" y="254" width="2" height="1" fill="#e872e8"/>
<rect x="652" y="254" width="1" height="1" fill="#e872e8"/>
<rect x="653" y="254" width="2" height="1" fill="#e872e8"/>
<rect x="665" y="254" width="2" height="1" fill="#555555"/>
<rect x="667" y="254" width="1" height="1" fill="#e872e8"/>
<rect x="671" y="254" width="3" height="1" fill="#e872e8"/>
<rect x="674" y="254" width="1" height="1" fill="#e872e8"/>
<rect x="676" y="254" width="2" height="1" fill="#e872e8"/>
<rect x="680" y="254" width="1" height="1" fill="#e872e8"/>
<polygon points="110.5,254.3 110.5,254.0 111.6,252.3 112.5,249.3 113.1,246.3 113.6,244.8 114.1,247.3 114.8,251.3 115.8,253.1 117.0,254.0 117.0,254.3" fill="#000"/>
<polygon points="354.5,254.3 354.5,254.0 356.0,252.3 357.0,249.3 358.0,246.3 359.0,243.8 359.8,242.1 360.6,243.3 361.6,246.3 362.6,249.3 363.6,251.8 365.0,254.0 365.0,254.3" fill="#000"/>
<rect x="359.20" y="241.80" width="1.20" height="0.90" fill="#e0106a"/>
<rect x="359.20" y="242.70" width="1.20" height="0.70" fill="#2020a0"/>
<polygon points="424.5,254.3 424.5,254.0 425.5,250.3 426.5,246.3 427.5,243.3 428.3,242.1 431.6,242.1 432.0,254.0 432.0,254.3" fill="#000"/>
<polygon points="432.5,254.3 432.5,254.0 432.9,245.3 434.0,244.8 435.5,245.8 436.5,249.3 437.2,254.0 437.2,254.3" fill="#000"/>
<rect x="428.30" y="241.80" width="3.30" height="0.90" fill="#e0106a"/>
<rect x="428.30" y="242.70" width="3.30" height="0.70" fill="#2020a0"/>
<polygon points="155.0,254.3 155.0,254.0 156.5,252.8 157.5,251.8 158.5,253.1 160.0,254.0 160.0,254.3" fill="#000"/>
<polygon points="320.7,254.3 322.3,253.6 323.9,254.3" fill="#000"/>
<polygon points="275.6,254.3 276.8,253.1 278.0,254.3" fill="#000"/>
<polygon points="241.7,254.3 242.4,253.6 243.0,254.3" fill="#000"/>
<polygon points="163.4,254.3 164.4,253.1 165.5,254.3" fill="#000"/>
<polygon points="173.7,254.3 174.5,253.4 175.3,254.3" fill="#000"/>
<polygon points="137.4,254.3 138.8,253.4 140.3,254.3" fill="#000"/>
<polygon points="240.1,254.3 241.3,253.7 242.5,254.3" fill="#000"/>
<polygon points="216.3,254.3 216.9,253.2 217.6,254.3" fill="#000"/>
<polygon points="171.9,254.3 172.6,253.1 173.2,254.3" fill="#000"/>
<polygon points="348.3,254.3 349.8,253.3 351.3,254.3" fill="#000"/>
<polygon points="137.3,254.3 138.2,253.4 139.2,254.3" fill="#000"/>
<polygon points="172.7,254.3 173.8,253.4 174.8,254.3" fill="#000"/>
<polygon points="117.3,254.3 118.9,253.2 120.4,254.3" fill="#000"/>
<polygon points="208.8,254.3 209.6,253.5 210.5,254.3" fill="#000"/>
<polygon points="512.4,254.3 513.5,253.6 514.5,254.3" fill="#000"/>
<polygon points="542.6,254.3 543.3,253.7 544.0,254.3" fill="#000"/>
<polygon points="479.9,254.3 480.6,253.5 481.4,254.3" fill="#000"/>
<polygon points="567.3,254.3 568.0,253.4 568.7,254.3" fill="#000"/>
<polygon points="658.8,254.3 659.8,253.5 660.8,254.3" fill="#000"/>
<polygon points="484.3,254.3 485.6,253.8 486.8,254.3" fill="#000"/>
<polygon points="544.9,254.3 545.8,253.4 546.7,254.3" fill="#000"/>
<polygon points="490.9,254.3 491.8,253.6 492.7,254.3" fill="#000"/>
<polygon points="505.8,254.3 506.5,253.7 507.1,254.3" fill="#000"/>
<polygon points="580.1,254.3 580.7,253.8 581.3,254.3" fill="#000"/>
<path d="M40.5,126.2 H48.0 M44.2,126.2 V258.6 M40.5,258.6 H48.0" stroke="#111" stroke-width="1.3" fill="none"/>
<path d="M40.3,272.0 H47.9 M44.2,272.0 V499.4 M40.3,499.4 H47.9" stroke="#111" stroke-width="1.3" fill="none"/>
<path d="M39.9,507.0 H48.0 M43.8,507.0 V684.5 M39.9,684.5 H48.0" stroke="#111" stroke-width="1.3" fill="none"/>
<path d="M82.6,272.6 H73.8 V358.1 H82.6" stroke="#111" stroke-width="1.2" fill="none"/>
<path d="M82.4,365.6 H74.1 V498.1 H82.4" stroke="#111" stroke-width="1.2" fill="none"/>
<text x="34.3" y="193.1" font-size="9.7" text-anchor="middle" fill="#111" transform="rotate(-90 34.3 193.1)" stroke="#111" stroke-width="0.18">Histone mod ChIp-Seq density</text>
<text x="34.9" y="386.2" font-size="9.7" text-anchor="middle" fill="#111" transform="rotate(-90 34.9 386.2)" stroke="#111" stroke-width="0.18">MCF7</text>
<text x="35.4" y="595.2" font-size="9.7" text-anchor="middle" fill="#111" transform="rotate(-90 35.4 595.2)" stroke="#111" stroke-width="0.18">HMEC</text>
<text x="63.5" y="315.0" font-size="9.7" text-anchor="middle" fill="#111" transform="rotate(-90 63.5 315.0)" stroke="#111" stroke-width="0.18">Encode</text>
<text x="89.7" y="315.4" font-size="9.7" text-anchor="middle" fill="#111" transform="rotate(-90 89.7 315.4)" stroke="#111" stroke-width="0.18">ChIA−PET (POL2)</text>
<text x="63.1" y="432.0" font-size="9.7" text-anchor="middle" fill="#111" transform="rotate(-90 63.1 432.0)" stroke="#111" stroke-width="0.18">4D-genome</text>
<text x="89.5" y="432.5" font-size="9.7" text-anchor="middle" fill="#111" transform="rotate(-90 89.5 432.5)" stroke="#111" stroke-width="0.18">ChIA−PET (POL2)</text>
<text x="81.0" y="554.3" font-size="9.7" text-anchor="middle" fill="#111" transform="rotate(-90 81.0 554.3)" stroke="#111" stroke-width="0.18">Super</text>
<text x="94.6" y="553.8" font-size="9.7" text-anchor="middle" fill="#111" transform="rotate(-90 94.6 553.8)" stroke="#111" stroke-width="0.18">Enhancers</text>
<text x="94.1" y="637.9" font-size="9.7" text-anchor="middle" fill="#111" transform="rotate(-90 94.1 637.9)" stroke="#111" stroke-width="0.18">IM−PET</text>
<text x="93.1" y="716.9" font-size="9.7" text-anchor="middle" fill="#111" transform="rotate(-90 93.1 716.9)" stroke="#111" stroke-width="0.18">SNPs</text>
<text x="93.1" y="792.6" font-size="9.7" text-anchor="middle" fill="#111" transform="rotate(-90 93.1 792.6)" stroke="#111" stroke-width="0.18">Genes</text>
<defs>
<clipPath id="c0"><rect x="107.0" y="272.0" width="575.6" height="85.80000000000001"/></clipPath>
<clipPath id="c1"><rect x="107.0" y="364.5" width="575.6" height="135.3"/></clipPath>
<clipPath id="c2"><rect x="107.0" y="506.3" width="575.6" height="85.69999999999999"/></clipPath>
<clipPath id="c3"><rect x="107.0" y="598.3" width="575.6" height="85.60000000000002"/></clipPath>
<clipPath id="c4"><rect x="107.0" y="690.0" width="575.6" height="51.299999999999955"/></clipPath>
<clipPath id="c5"><rect x="107.0" y="747.6" width="575.6" height="80.0"/></clipPath>
</defs>
<g clip-path="url(#c0)">
<path d="M111.00,353.60 A11.10,77.80 0 0 1 133.20,353.60" fill="none" stroke="#2e2e2e" stroke-width="1.0"/>
<path d="M111.00,353.60 A8.05,77.80 0 0 1 127.10,353.60" fill="none" stroke="#2e2e2e" stroke-width="1.0"/>
<path d="M-224.00,353.60 A332.00,77.80 0 0 1 440.00,353.60" fill="none" stroke="#2e2e2e" stroke-width="1.0"/>
<path d="M104.00,353.60 A166.00,77.80 0 0 1 436.00,353.60" fill="none" stroke="#2e2e2e" stroke-width="1.0"/>
<path d="M428.90,353.60 A593.05,77.80 0 0 1 1615.00,353.60" fill="none" stroke="#2e2e2e" stroke-width="1.0"/>
<path d="M428.90,353.60 A3373.05,77.80 0 0 1 7175.00,353.60" fill="none" stroke="#2e2e2e" stroke-width="1.0"/>
<path d="M-129.00,353.60 A126.70,77.80 0 0 1 124.40,353.60" fill="none" stroke="#2e2e2e" stroke-width="1.0"/>
<path d="M-135.00,353.60 A126.40,77.80 0 0 1 117.80,353.60" fill="none" stroke="#2e2e2e" stroke-width="1.0"/>
<path d="M348.80,353.60 A47.85,77.80 0 0 1 444.50,353.60" fill="none" stroke="#2e2e2e" stroke-width="1.0"/>
<path d="M360.20,353.60 A42.30,77.80 0 0 1 444.80,353.60" fill="none" stroke="#2e2e2e" stroke-width="1.0"/>
<path d="M383.50,353.60 A26.90,77.80 0 0 1 437.30,353.60" fill="none" stroke="#2e2e2e" stroke-width="1.0"/>
<path d="M404.40,353.60 A15.95,77.80 0 0 1 436.30,353.60" fill="none" stroke="#2e2e2e" stroke-width="1.0"/>
<path d="M412.60,353.60 A16.05,77.80 0 0 1 444.70,353.60" fill="none" stroke="#2e2e2e" stroke-width="1.0"/>
<path d="M419.80,353.60 A12.95,77.80 0 0 1 445.70,353.60" fill="none" stroke="#2e2e2e" stroke-width="1.0"/>
<path d="M428.90,353.60 A12.60,77.80 0 0 1 454.10,353.60" fill="none" stroke="#2e2e2e" stroke-width="1.0"/>
<path d="M589.60,353.60 A8.90,77.80 0 0 1 607.40,353.60" fill="none" stroke="#2e2e2e" stroke-width="1.0"/>
</g>
<g clip-path="url(#c1)">
<path d="M429.60,493.80 A12.30,123.20 0 0 1 454.20,493.80" fill="none" stroke="#dcdcdc" stroke-width="0.9"/>
<path d="M111.80,493.80 A11.10,123.20 0 0 1 134.00,493.80" fill="none" stroke="#000" stroke-width="1.5"/>
</g>
<rect x="355.20" y="510.50" width="8.70" height="77.30" fill="#686868" stroke="#555" stroke-width="0.6"/>
<clipPath id="gcl"><rect x="384" y="590" width="30" height="95"/></clipPath>
<path d="M356.60,680.00 A21.65,77.60 0 0 1 399.90,680.00" fill="none" stroke="#5cbf6c" stroke-width="0.9" clip-path="url(#gcl)"/>
<path d="M113.60,680.00 A82.25,77.90 0 0 1 278.10,680.00" fill="none" stroke="#e4665a" stroke-width="1.2"/>
<path d="M356.30,680.00 A21.50,77.70 0 0 1 399.30,680.00" fill="none" stroke="#e4665a" stroke-width="1.2"/>
<line x1="647" y1="683.3" x2="681" y2="683.3" stroke="#a8a8d8" stroke-width="0.8"/>
<text x="623.6" y="610.4" font-size="7.2" text-anchor="start" fill="#222" font-weight="bold" stroke="#222" stroke-width="0.18">gene</text>
<rect x="623.80" y="616.20" width="5.00" height="6.60" fill="#e4675a"/>
<rect x="623.80" y="627.30" width="5.00" height="6.60" fill="#4cba5e"/>
<text x="633.0" y="621.9" font-size="7.0" text-anchor="start" fill="#222" stroke="#222" stroke-width="0.18">ATM</text>
<text x="633.0" y="632.9" font-size="7.0" text-anchor="start" fill="#222" stroke="#222" stroke-width="0.18">NPAT</text>
<line x1="263.6" y1="722.5" x2="263.6" y2="734.4" stroke="#111" stroke-width="1.3"/>
<line x1="279.4" y1="722.5" x2="279.4" y2="734.4" stroke="#111" stroke-width="1.3"/>
<line x1="416" y1="722.5" x2="416" y2="734.4" stroke="#111" stroke-width="1.3"/>
<line x1="419.2" y1="722.5" x2="419.2" y2="734.4" stroke="#111" stroke-width="1.3"/>
<line x1="447.1" y1="722.5" x2="447.1" y2="734.4" stroke="#111" stroke-width="1.3"/>
<line x1="469.8" y1="722.5" x2="469.8" y2="734.4" stroke="#111" stroke-width="1.3"/>
<line x1="526.8" y1="722.5" x2="526.8" y2="734.4" stroke="#111" stroke-width="1.3"/>
<line x1="583.8" y1="722.5" x2="583.8" y2="734.4" stroke="#111" stroke-width="1.3"/>
<line x1="419.5" y1="704.5" x2="419.5" y2="718.0" stroke="#777" stroke-width="0.6"/>
<line x1="447.1" y1="706.5" x2="447.1" y2="717.6" stroke="#777" stroke-width="0.6"/>
<text x="224.7" y="717.8" font-size="8.6" text-anchor="start" fill="#111" stroke="#111" stroke-width="0.18">rs6589007</text>
<text x="276.6" y="717.8" font-size="8.6" text-anchor="start" fill="#111" stroke="#111" stroke-width="0.18">rs7129527</text>
<text x="387.0" y="703.8" font-size="8.6" text-anchor="start" fill="#111" stroke="#111" stroke-width="0.18">rs183459</text>
<text x="381.0" y="717.8" font-size="8.6" text-anchor="start" fill="#111" stroke="#111" stroke-width="0.18">rs228606</text>
<text x="444.9" y="704.0" font-size="8.6" text-anchor="start" fill="#111" stroke="#111" stroke-width="0.18">chr11:108098459:TAA_T</text>
<text x="467.2" y="717.8" font-size="8.6" text-anchor="start" fill="#111" stroke="#111" stroke-width="0.18">rs228595</text>
<text x="523.0" y="717.8" font-size="8.6" text-anchor="start" fill="#111" stroke="#111" stroke-width="0.18">rs228592</text>
<text x="580.0" y="717.8" font-size="8.6" text-anchor="start" fill="#111" stroke="#111" stroke-width="0.18">rs651030</text>
<g clip-path="url(#c5)">
<line x1="114.4" y1="811.4" x2="198" y2="811.4" stroke="#111" stroke-width="1.35"/>
<rect x="113.90" y="799.20" width="1.10" height="24.40" fill="#222"/>
<rect x="146.20" y="799.20" width="1.60" height="24.40" fill="#555"/>
<rect x="152.30" y="799.20" width="2.70" height="24.40" fill="#111"/>
<rect x="155.80" y="799.20" width="1.10" height="24.40" fill="#222"/>
<rect x="156.85" y="799.20" width="1.10" height="24.40" fill="#222"/>
<rect x="159.00" y="799.20" width="3.80" height="24.40" fill="#3a3a3a"/>
<rect x="168.15" y="799.20" width="1.10" height="24.40" fill="#555"/>
<rect x="171.95" y="799.20" width="1.10" height="24.40" fill="#222"/>
<rect x="176.70" y="799.20" width="1.10" height="24.40" fill="#222"/>
<rect x="179.40" y="799.20" width="5.60" height="24.40" fill="#3a3a3a"/>
<rect x="190.95" y="799.20" width="1.10" height="24.40" fill="#333"/>
<rect x="194.80" y="799.20" width="3.10" height="24.40" fill="#333"/>
<polygon points="146.4,811.4 142.6,809.1 143.6,811.4 142.6,813.6999999999999" fill="#000"/>
<polygon points="153.4,811.4 149.6,809.1 150.6,811.4 149.6,813.6999999999999" fill="#000"/>
<polygon points="157.4,811.4 153.6,809.1 154.6,811.4 153.6,813.6999999999999" fill="#000"/>
<polygon points="160.4,811.4 156.6,809.1 157.6,811.4 156.6,813.6999999999999" fill="#000"/>
<polygon points="167.4,811.4 163.6,809.1 164.6,811.4 163.6,813.6999999999999" fill="#000"/>
<polygon points="169.4,811.4 165.6,809.1 166.6,811.4 165.6,813.6999999999999" fill="#000"/>
<polygon points="174.9,811.4 171.1,809.1 172.1,811.4 171.1,813.6999999999999" fill="#000"/>
<polygon points="177.4,811.4 173.6,809.1 174.6,811.4 173.6,813.6999999999999" fill="#000"/>
<polygon points="188.4,811.4 184.6,809.1 185.6,811.4 184.6,813.6999999999999" fill="#000"/>
<polygon points="191.4,811.4 187.6,809.1 188.6,811.4 187.6,813.6999999999999" fill="#000"/>
<polygon points="195.4,811.4 191.6,809.1 192.6,811.4 191.6,813.6999999999999" fill="#000"/>
<line x1="226.4" y1="811.4" x2="431.2" y2="811.4" stroke="#111" stroke-width="1.35"/>
<rect x="226.40" y="799.20" width="5.90" height="24.40" fill="#3a3a3a"/>
<rect x="237.30" y="799.20" width="4.90" height="24.40" fill="#3a3a3a"/>
<rect x="265.45" y="799.20" width="1.10" height="24.40" fill="#222"/>
<rect x="270.20" y="799.20" width="8.20" height="24.40" fill="#3a3a3a"/>
<rect x="285.55" y="799.20" width="1.10" height="24.40" fill="#666"/>
<rect x="287.55" y="799.20" width="1.10" height="24.40" fill="#111"/>
<rect x="313.55" y="799.20" width="1.10" height="24.40" fill="#111"/>
<rect x="315.25" y="799.20" width="1.10" height="24.40" fill="#111"/>
<rect x="317.45" y="799.20" width="1.10" height="24.40" fill="#111"/>
<rect x="322.25" y="799.20" width="1.10" height="24.40" fill="#111"/>
<rect x="324.05" y="799.20" width="1.10" height="24.40" fill="#111"/>
<rect x="325.55" y="799.20" width="1.10" height="24.40" fill="#111"/>
<rect x="328.85" y="799.20" width="1.10" height="24.40" fill="#111"/>
<rect x="331.45" y="799.20" width="1.10" height="24.40" fill="#111"/>
<rect x="335.45" y="799.20" width="1.10" height="24.40" fill="#111"/>
<rect x="341.55" y="799.20" width="1.10" height="24.40" fill="#111"/>
<rect x="351.45" y="799.20" width="1.10" height="24.40" fill="#111"/>
<rect x="430.65" y="799.20" width="1.10" height="24.40" fill="#111"/>
<polygon points="231.4,811.4 235.2,809.1 234.2,811.4 235.2,813.6999999999999" fill="#000"/>
<polygon points="241.1,811.4 244.9,809.1 243.9,811.4 244.9,813.6999999999999" fill="#000"/>
<polygon points="265.6,811.4 269.4,809.1 268.4,811.4 269.4,813.6999999999999" fill="#000"/>
<polygon points="279.6,811.4 283.4,809.1 282.4,811.4 283.4,813.6999999999999" fill="#000"/>
<polygon points="287.1,811.4 290.9,809.1 289.9,811.4 290.9,813.6999999999999" fill="#000"/>
<polygon points="316.1,811.4 319.9,809.1 318.9,811.4 319.9,813.6999999999999" fill="#000"/>
<polygon points="326.6,811.4 330.4,809.1 329.4,811.4 330.4,813.6999999999999" fill="#000"/>
<polygon points="341.2,811.4 345.0,809.1 344.0,811.4 345.0,813.6999999999999" fill="#000"/>
<polygon points="352.2,811.4 356.0,809.1 355.0,811.4 356.0,813.6999999999999" fill="#000"/>
<polygon points="365.3,811.4 369.1,809.1 368.1,811.4 369.1,813.6999999999999" fill="#000"/>
<polygon points="378.5,811.4 382.3,809.1 381.3,811.4 382.3,813.6999999999999" fill="#000"/>
<polygon points="391.6,811.4 395.4,809.1 394.4,811.4 395.4,813.6999999999999" fill="#000"/>
<polygon points="404.7,811.4 408.5,809.1 407.5,811.4 408.5,813.6999999999999" fill="#000"/>
<polygon points="417.9,811.4 421.7,809.1 420.7,811.4 421.7,813.6999999999999" fill="#000"/>
<line x1="431.9" y1="770.8" x2="685" y2="770.8" stroke="#111" stroke-width="1.35"/>
<rect x="431.35" y="757.80" width="1.10" height="26.00" fill="#111"/>
<rect x="432.75" y="757.80" width="1.10" height="26.00" fill="#111"/>
<rect x="434.65" y="757.80" width="1.10" height="26.00" fill="#111"/>
<rect x="437.85" y="757.80" width="1.10" height="26.00" fill="#111"/>
<rect x="446.55" y="757.80" width="1.10" height="26.00" fill="#111"/>
<rect x="448.15" y="757.80" width="1.10" height="26.00" fill="#111"/>
<rect x="451.45" y="757.80" width="1.10" height="26.00" fill="#111"/>
<rect x="471.75" y="757.80" width="1.10" height="26.00" fill="#111"/>
<rect x="497.75" y="757.80" width="1.10" height="26.00" fill="#111"/>
<rect x="498.95" y="757.80" width="1.10" height="26.00" fill="#111"/>
<rect x="500.35" y="757.80" width="1.10" height="26.00" fill="#111"/>
<rect x="506.85" y="757.80" width="1.10" height="26.00" fill="#111"/>
<rect x="513.15" y="757.80" width="1.10" height="26.00" fill="#111"/>
<rect x="518.65" y="757.80" width="1.10" height="26.00" fill="#111"/>
<rect x="520.45" y="757.80" width="1.10" height="26.00" fill="#111"/>
<rect x="522.55" y="757.80" width="1.10" height="26.00" fill="#111"/>
<rect x="525.35" y="757.80" width="1.10" height="26.00" fill="#111"/>
<rect x="527.95" y="757.80" width="1.10" height="26.00" fill="#111"/>
<rect x="535.85" y="757.80" width="1.10" height="26.00" fill="#111"/>
<rect x="538.35" y="757.80" width="1.10" height="26.00" fill="#111"/>
<rect x="540.75" y="757.80" width="1.10" height="26.00" fill="#111"/>
<rect x="544.65" y="757.80" width="1.10" height="26.00" fill="#111"/>
<rect x="570.75" y="757.80" width="1.10" height="26.00" fill="#111"/>
<rect x="574.05" y="757.80" width="1.10" height="26.00" fill="#111"/>
<rect x="582.95" y="757.80" width="1.10" height="26.00" fill="#111"/>
<rect x="584.55" y="757.80" width="1.10" height="26.00" fill="#111"/>
<rect x="587.85" y="757.80" width="1.10" height="26.00" fill="#111"/>
<rect x="609.55" y="757.80" width="1.10" height="26.00" fill="#111"/>
<rect x="613.55" y="757.80" width="1.10" height="26.00" fill="#111"/>
<rect x="619.45" y="757.80" width="1.10" height="26.00" fill="#111"/>
<rect x="623.95" y="757.80" width="1.10" height="26.00" fill="#111"/>
<rect x="634.15" y="757.80" width="1.10" height="26.00" fill="#111"/>
<rect x="635.55" y="757.80" width="1.10" height="26.00" fill="#111"/>
<rect x="647.95" y="757.80" width="1.10" height="26.00" fill="#111"/>
<rect x="650.95" y="757.80" width="1.10" height="26.00" fill="#111"/>
<rect x="652.95" y="757.80" width="1.10" height="26.00" fill="#111"/>
<rect x="664.75" y="757.80" width="1.10" height="26.00" fill="#111"/>
<rect x="673.25" y="757.80" width="1.10" height="26.00" fill="#111"/>
<rect x="678.55" y="757.80" width="1.10" height="26.00" fill="#111"/>
<rect x="680.45" y="757.80" width="1.10" height="26.00" fill="#111"/>
<rect x="640.70" y="757.80" width="3.50" height="26.00" fill="#3a3a3a"/>
<rect x="658.00" y="757.80" width="3.40" height="26.00" fill="#3a3a3a"/>
<polygon points="436.9,770.8 433.1,768.5 434.1,770.8 433.1,773.0999999999999" fill="#000"/>
<polygon points="447.4,770.8 443.6,768.5 444.6,770.8 443.6,773.0999999999999" fill="#000"/>
<polygon points="452.4,770.8 448.6,768.5 449.6,770.8 448.6,773.0999999999999" fill="#000"/>
<polygon points="473.4,770.8 469.6,768.5 470.6,770.8 469.6,773.0999999999999" fill="#000"/>
<polygon points="499.4,770.8 495.6,768.5 496.6,770.8 495.6,773.0999999999999" fill="#000"/>
<polygon points="507.4,770.8 503.6,768.5 504.6,770.8 503.6,773.0999999999999" fill="#000"/>
<polygon points="513.4,770.8 509.6,768.5 510.6,770.8 509.6,773.0999999999999" fill="#000"/>
<polygon points="519.4,770.8 515.6,768.5 516.6,770.8 515.6,773.0999999999999" fill="#000"/>
<polygon points="529.4,770.8 525.6,768.5 526.6,770.8 525.6,773.0999999999999" fill="#000"/>
<polygon points="535.4,770.8 531.6,768.5 532.6,770.8 531.6,773.0999999999999" fill="#000"/>
<polygon points="542.4,770.8 538.6,768.5 539.6,770.8 538.6,773.0999999999999" fill="#000"/>
<polygon points="570.4,770.8 566.6,768.5 567.6,770.8 566.6,773.0999999999999" fill="#000"/>
<polygon points="583.4,770.8 579.6,768.5 580.6,770.8 579.6,773.0999999999999" fill="#000"/>
<polygon points="610.4,770.8 606.6,768.5 607.6,770.8 606.6,773.0999999999999" fill="#000"/>
<polygon points="620.4,770.8 616.6,768.5 617.6,770.8 616.6,773.0999999999999" fill="#000"/>
<polygon points="625.4,770.8 621.6,768.5 622.6,770.8 621.6,773.0999999999999" fill="#000"/>
<polygon points="634.4,770.8 630.6,768.5 631.6,770.8 630.6,773.0999999999999" fill="#000"/>
<polygon points="642.4,770.8 638.6,768.5 639.6,770.8 638.6,773.0999999999999" fill="#000"/>
<polygon points="648.4,770.8 644.6,768.5 645.6,770.8 644.6,773.0999999999999" fill="#000"/>
<polygon points="658.4,770.8 654.6,768.5 655.6,770.8 654.6,773.0999999999999" fill="#000"/>
<polygon points="665.4,770.8 661.6,768.5 662.6,770.8 661.6,773.0999999999999" fill="#000"/>
<polygon points="673.4,770.8 669.6,768.5 670.6,770.8 669.6,773.0999999999999" fill="#000"/>
<polygon points="679.4,770.8 675.6,768.5 676.6,770.8 675.6,773.0999999999999" fill="#000"/>
</g>
<text x="153" y="796.0" font-size="7.6" text-anchor="middle" fill="#808080" stroke="#808080" stroke-width="0.18">ACAT1</text>
<text x="327" y="796.2" font-size="7.6" text-anchor="middle" fill="#808080" stroke="#808080" stroke-width="0.18">NPAT</text>
<text x="571.7" y="755.8" font-size="7.8" text-anchor="middle" fill="#808080" stroke="#808080" stroke-width="0.18">ATM</text>
<rect x="107.0" y="272.0" width="575.6" height="85.80000000000001" fill="none" stroke="#6e6e6e" stroke-width="1.2"/>
<rect x="107.0" y="364.5" width="575.6" height="135.3" fill="none" stroke="#6e6e6e" stroke-width="1.2"/>
<rect x="107.0" y="506.3" width="575.6" height="85.69999999999999" fill="none" stroke="#6e6e6e" stroke-width="1.2"/>
<rect x="107.0" y="598.3" width="575.6" height="85.60000000000002" fill="none" stroke="#6e6e6e" stroke-width="1.2"/>
<rect x="107.0" y="690.0" width="575.6" height="51.299999999999955" fill="none" stroke="#6e6e6e" stroke-width="1.2"/>
<rect x="107.0" y="747.6" width="575.6" height="80.0" fill="none" stroke="#6e6e6e" stroke-width="1.2"/>
<line x1="138.8" y1="838.1" x2="138.8" y2="843.2" stroke="#222" stroke-width="1.2"/>
<text x="137.9" y="855.3" font-size="9.6" text-anchor="middle" fill="#111" stroke="#111" stroke-width="0.05">108000000</text>
<line x1="295.7" y1="838.1" x2="295.7" y2="843.2" stroke="#222" stroke-width="1.2"/>
<text x="294.8" y="855.3" font-size="9.6" text-anchor="middle" fill="#111" stroke="#111" stroke-width="0.05">108050000</text>
<line x1="452.6" y1="838.1" x2="452.6" y2="843.2" stroke="#222" stroke-width="1.2"/>
<text x="451.70000000000005" y="855.3" font-size="9.6" text-anchor="middle" fill="#111" stroke="#111" stroke-width="0.05">108100000</text>
<line x1="609.5" y1="838.1" x2="609.5" y2="843.2" stroke="#222" stroke-width="1.2"/>
<text x="608.6" y="855.3" font-size="9.6" text-anchor="middle" fill="#111" stroke="#111" stroke-width="0.05">108150000</text>
</svg>
</body></html>
